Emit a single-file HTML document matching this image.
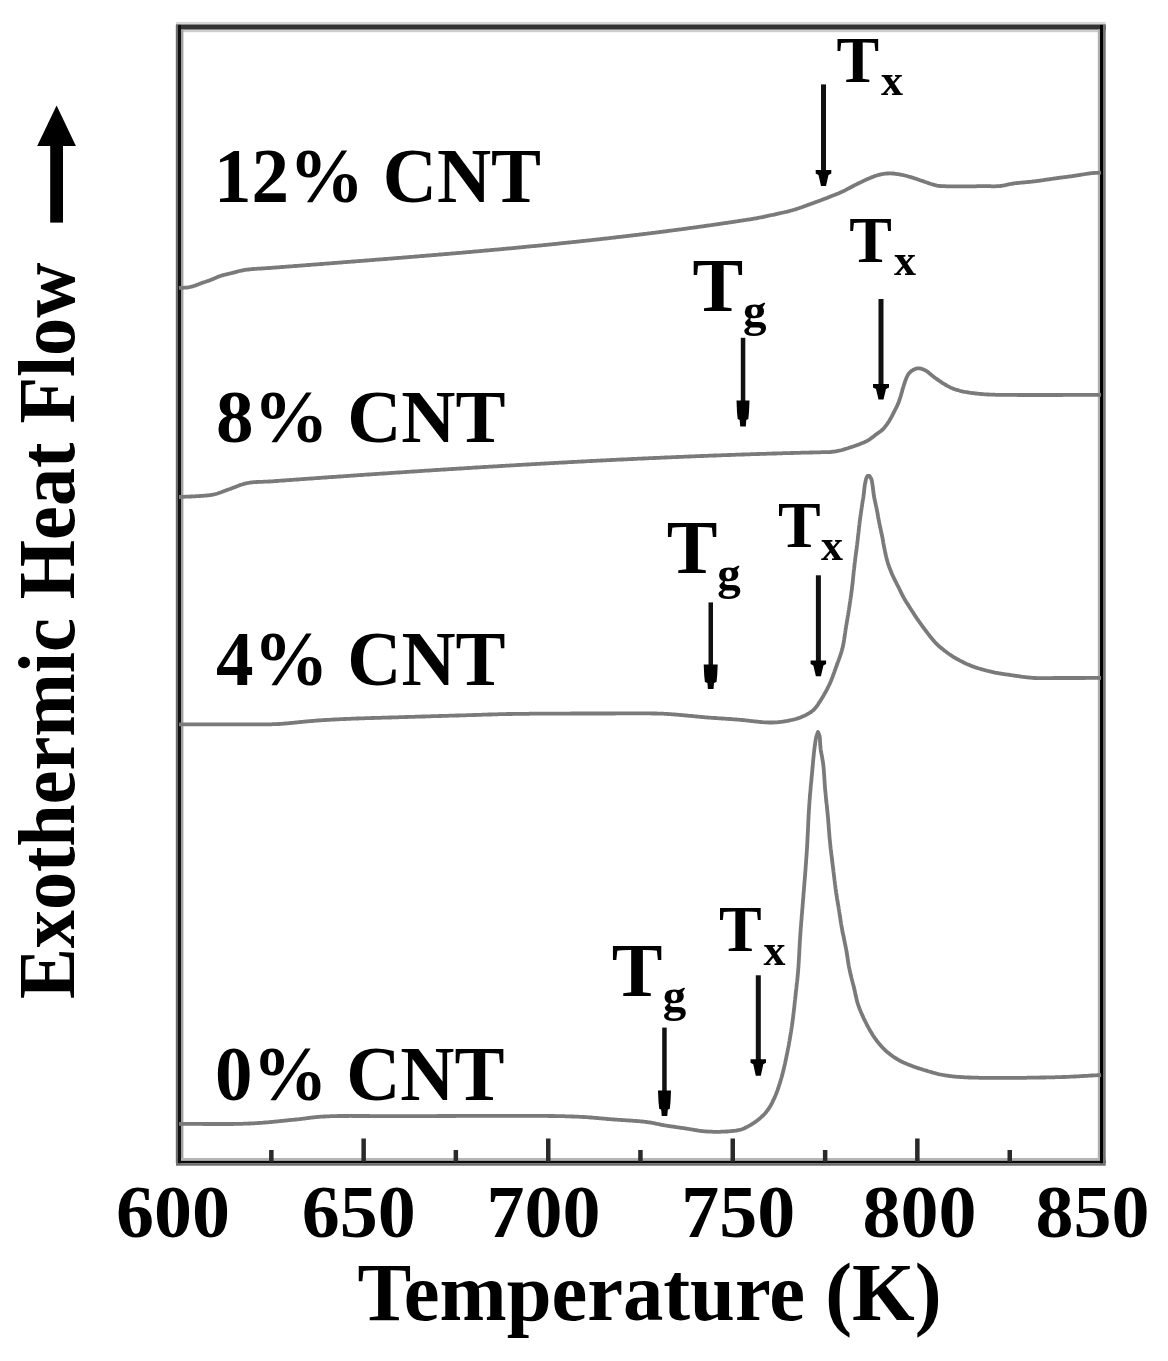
<!DOCTYPE html>
<html><head><meta charset="utf-8"><style>
html,body{margin:0;padding:0;background:#fff;}
svg{display:block;will-change:transform;}
text{font-family:"Liberation Serif",serif;font-weight:bold;fill:#000;}
</style></head><body>
<svg width="1168" height="1361" viewBox="0 0 1168 1361">
<rect x="176" y="21.9" width="929.7" height="2.1" fill="#d9d9d9"/>
<rect x="176" y="24.0" width="929.7" height="0.9" fill="#8a8a8a"/>
<rect x="176" y="24.9" width="929.7" height="4.7" fill="#333"/>
<rect x="176" y="29.6" width="929.7" height="0.5" fill="#888"/>
<rect x="176" y="30.1" width="929.7" height="2.1" fill="#cdcdcd"/>
<rect x="176" y="1158.0" width="929.7" height="2.8" fill="#b5b5b5"/>
<rect x="176" y="1160.8" width="929.7" height="2.4" fill="#0a0a0a"/>
<rect x="176" y="1163.2" width="929.7" height="2.5" fill="#6b6b6b"/>
<rect x="175.8" y="24.9" width="2.2" height="1138.3" fill="#6a6a6a"/>
<rect x="178.0" y="24.9" width="3.0" height="1138.3" fill="#111"/>
<rect x="181.0" y="29.6" width="2.4" height="1128.4" fill="#a0a0a0"/>
<rect x="1097.8" y="29.6" width="2.2" height="1128.4" fill="#b0b0b0"/>
<rect x="1100.0" y="24.9" width="3.0" height="1138.3" fill="#000"/>
<rect x="1103.0" y="24.9" width="2.7" height="1138.3" fill="#737373"/>
<rect x="269.1" y="1150" width="4.5" height="12" fill="#2a2a2a"/>
<rect x="361.4" y="1138.5" width="4.5" height="23.5" fill="#2a2a2a"/>
<rect x="453.6" y="1150" width="4.5" height="12" fill="#2a2a2a"/>
<rect x="546.0" y="1138.5" width="4.5" height="23.5" fill="#2a2a2a"/>
<rect x="638.2" y="1150" width="4.5" height="12" fill="#2a2a2a"/>
<rect x="730.5" y="1138.5" width="4.5" height="23.5" fill="#2a2a2a"/>
<rect x="822.9" y="1150" width="4.5" height="12" fill="#2a2a2a"/>
<rect x="915.1" y="1138.5" width="4.5" height="23.5" fill="#2a2a2a"/>
<rect x="1007.5" y="1150" width="4.5" height="12" fill="#2a2a2a"/>
<path d="M179.0,288.0 L180.0,287.9 L181.1,287.9 L182.1,287.8 L183.2,287.8 L184.2,287.7 L185.3,287.6 L186.3,287.6 L187.4,287.5 L188.4,287.3 L189.4,287.2 L190.4,287.0 L191.5,286.7 L192.5,286.4 L193.6,286.1 L194.6,285.7 L195.6,285.4 L196.6,285.0 L197.6,284.6 L198.7,284.2 L199.7,283.8 L200.7,283.4 L201.7,283.0 L202.8,282.7 L203.8,282.3 L204.8,282.0 L205.9,281.6 L206.9,281.3 L207.9,280.9 L208.9,280.6 L210.0,280.2 L211.0,279.8 L212.0,279.4 L213.0,279.0 L214.1,278.6 L215.1,278.1 L216.1,277.7 L217.1,277.3 L218.1,276.8 L219.1,276.4 L220.2,276.1 L221.2,275.7 L222.2,275.4 L223.2,275.1 L224.2,274.8 L225.2,274.6 L226.2,274.3 L227.3,274.1 L228.3,273.8 L229.3,273.6 L230.4,273.4 L231.5,273.1 L232.5,272.9 L233.4,272.6 L234.4,272.4 L235.3,272.1 L236.3,271.8 L237.3,271.6 L238.3,271.3 L239.3,271.0 L240.4,270.8 L241.5,270.6 L242.6,270.3 L243.7,270.1 L244.9,269.9 L245.8,269.8 L246.6,269.7 L247.5,269.6 L248.5,269.5 L249.4,269.4 L250.3,269.3 L251.3,269.2 L252.3,269.1 L253.3,269.0 L254.3,268.9 L255.4,268.9 L256.4,268.8 L257.4,268.7 L258.5,268.7 L259.5,268.6 L260.6,268.6 L261.6,268.5 L262.7,268.4 L263.7,268.4 L264.8,268.3 L265.8,268.2 L266.8,268.2 L267.9,268.1 L268.9,268.0 L269.9,268.0 L270.9,267.9 L271.9,267.8 L272.9,267.7 L273.9,267.7 L274.9,267.6 L275.9,267.5 L276.9,267.4 L277.9,267.3 L278.9,267.3 L279.9,267.2 L280.9,267.1 L281.9,267.0 L282.9,267.0 L283.9,266.9 L284.9,266.8 L285.9,266.7 L286.9,266.6 L287.9,266.6 L288.9,266.5 L289.9,266.4 L290.9,266.3 L291.9,266.3 L292.9,266.2 L293.9,266.1 L294.9,266.0 L295.9,266.0 L296.9,265.9 L297.9,265.8 L298.9,265.7 L299.9,265.6 L300.9,265.6 L301.9,265.5 L302.9,265.4 L303.9,265.3 L304.9,265.3 L305.9,265.2 L306.9,265.1 L307.9,265.0 L308.9,265.0 L309.9,264.9 L310.9,264.8 L311.9,264.7 L312.9,264.6 L313.9,264.6 L314.9,264.5 L315.9,264.4 L316.9,264.3 L317.9,264.3 L318.9,264.2 L319.9,264.1 L320.9,264.0 L321.9,264.0 L322.9,263.9 L323.9,263.8 L324.9,263.7 L325.9,263.6 L326.9,263.6 L327.9,263.5 L328.9,263.4 L329.9,263.3 L330.9,263.3 L331.9,263.2 L332.9,263.1 L333.9,263.0 L334.9,262.9 L335.9,262.9 L336.9,262.8 L337.9,262.7 L338.9,262.6 L339.9,262.6 L340.9,262.5 L341.9,262.4 L342.9,262.3 L343.9,262.2 L344.9,262.2 L345.9,262.1 L346.9,262.0 L347.9,261.9 L348.9,261.9 L349.9,261.8 L350.9,261.7 L351.9,261.6 L352.9,261.5 L353.9,261.5 L354.9,261.4 L355.9,261.3 L356.9,261.2 L357.9,261.2 L358.9,261.1 L359.9,261.0 L360.9,260.9 L361.9,260.8 L362.9,260.8 L363.9,260.7 L364.9,260.6 L365.9,260.5 L366.9,260.5 L367.9,260.4 L368.9,260.3 L369.9,260.2 L370.9,260.1 L371.9,260.1 L372.9,260.0 L373.9,259.9 L374.9,259.8 L375.9,259.7 L376.9,259.7 L377.9,259.6 L378.9,259.5 L379.9,259.4 L380.9,259.4 L381.9,259.3 L382.9,259.2 L383.9,259.1 L384.9,259.0 L385.9,259.0 L386.9,258.9 L387.9,258.8 L388.9,258.7 L389.9,258.6 L390.9,258.6 L391.9,258.5 L392.9,258.4 L393.9,258.3 L394.9,258.2 L395.9,258.2 L396.9,258.1 L397.9,258.0 L398.9,257.9 L399.9,257.8 L400.9,257.8 L401.9,257.7 L402.9,257.6 L403.9,257.5 L404.9,257.4 L405.9,257.3 L406.9,257.3 L407.9,257.2 L408.9,257.1 L409.9,257.0 L410.9,256.9 L411.9,256.9 L412.9,256.8 L413.9,256.7 L414.9,256.6 L415.9,256.5 L416.9,256.5 L417.9,256.4 L418.9,256.3 L419.9,256.2 L420.9,256.1 L421.9,256.0 L422.9,256.0 L423.9,255.9 L424.9,255.8 L425.9,255.7 L426.9,255.6 L427.9,255.5 L428.9,255.5 L429.9,255.4 L430.9,255.3 L431.9,255.2 L432.9,255.1 L433.9,255.0 L434.9,255.0 L435.9,254.9 L436.9,254.8 L437.9,254.7 L438.9,254.6 L439.9,254.5 L440.9,254.5 L441.9,254.4 L442.9,254.3 L443.9,254.2 L444.9,254.1 L445.9,254.0 L446.9,254.0 L447.9,253.9 L448.9,253.8 L449.9,253.7 L450.9,253.6 L451.9,253.5 L452.9,253.4 L453.9,253.4 L454.9,253.3 L455.9,253.2 L456.9,253.1 L457.9,253.0 L458.9,252.9 L459.9,252.8 L460.9,252.8 L461.9,252.7 L462.9,252.6 L463.9,252.5 L464.9,252.4 L465.9,252.3 L466.9,252.2 L467.9,252.1 L468.9,252.1 L469.9,252.0 L470.9,251.9 L471.9,251.8 L472.9,251.7 L473.9,251.6 L474.9,251.5 L475.9,251.4 L476.9,251.4 L477.9,251.3 L478.9,251.2 L479.9,251.1 L480.9,251.0 L481.9,250.9 L482.9,250.8 L483.9,250.7 L484.9,250.6 L485.9,250.5 L486.9,250.5 L487.9,250.4 L488.9,250.3 L489.9,250.2 L490.9,250.1 L491.9,250.0 L492.9,249.9 L493.9,249.8 L494.9,249.7 L495.9,249.6 L496.9,249.6 L497.9,249.5 L498.9,249.4 L499.9,249.3 L500.9,249.2 L501.9,249.1 L502.9,249.0 L503.9,248.9 L504.9,248.8 L505.9,248.7 L506.9,248.6 L507.9,248.5 L508.9,248.4 L509.9,248.3 L510.9,248.3 L511.9,248.2 L512.9,248.1 L513.9,248.0 L514.9,247.9 L515.9,247.8 L516.9,247.7 L517.9,247.6 L518.9,247.5 L519.9,247.4 L520.9,247.3 L521.9,247.2 L522.9,247.1 L523.9,247.0 L524.9,246.9 L525.9,246.8 L526.9,246.7 L527.9,246.6 L528.9,246.5 L529.9,246.4 L530.9,246.3 L531.9,246.2 L532.9,246.2 L533.9,246.1 L534.9,246.0 L535.9,245.9 L536.9,245.8 L537.9,245.7 L538.9,245.6 L539.9,245.5 L540.9,245.4 L541.9,245.3 L542.9,245.2 L543.9,245.1 L544.9,245.0 L545.9,244.9 L546.9,244.8 L547.9,244.7 L548.9,244.6 L549.9,244.5 L550.9,244.4 L551.9,244.3 L552.9,244.2 L553.9,244.1 L554.9,244.0 L555.9,243.9 L556.9,243.8 L557.9,243.7 L558.9,243.6 L559.9,243.4 L560.9,243.3 L561.9,243.2 L562.9,243.1 L563.9,243.0 L564.9,242.9 L565.9,242.8 L566.9,242.7 L567.9,242.6 L568.9,242.5 L569.9,242.4 L570.9,242.3 L571.9,242.2 L572.9,242.1 L573.9,242.0 L574.9,241.9 L575.9,241.8 L576.9,241.7 L577.9,241.6 L578.9,241.5 L579.9,241.4 L580.9,241.2 L581.9,241.1 L582.9,241.0 L583.9,240.9 L584.9,240.8 L585.9,240.7 L586.9,240.6 L587.9,240.5 L588.9,240.4 L589.9,240.3 L590.9,240.2 L591.9,240.1 L592.9,239.9 L593.9,239.8 L594.9,239.7 L595.9,239.6 L596.9,239.5 L597.9,239.4 L598.9,239.3 L599.9,239.2 L600.9,239.1 L601.9,238.9 L602.9,238.8 L603.9,238.7 L604.9,238.6 L605.9,238.5 L606.9,238.4 L607.9,238.3 L608.9,238.2 L609.9,238.0 L610.9,237.9 L611.9,237.8 L612.9,237.7 L613.9,237.6 L614.9,237.5 L615.9,237.4 L616.9,237.2 L617.9,237.1 L618.9,237.0 L619.9,236.9 L620.9,236.8 L621.9,236.7 L622.9,236.5 L623.9,236.4 L624.9,236.3 L625.9,236.2 L626.9,236.1 L627.9,235.9 L628.9,235.8 L629.9,235.7 L630.9,235.6 L631.9,235.5 L632.9,235.4 L633.9,235.2 L634.9,235.1 L635.9,235.0 L636.9,234.9 L637.9,234.8 L638.9,234.6 L639.9,234.5 L640.9,234.4 L641.9,234.3 L642.9,234.1 L643.9,234.0 L644.9,233.9 L645.9,233.8 L646.9,233.7 L647.9,233.5 L648.9,233.4 L649.9,233.3 L650.9,233.2 L651.9,233.0 L652.9,232.9 L653.9,232.8 L654.9,232.7 L655.9,232.5 L656.9,232.4 L657.9,232.3 L658.9,232.1 L659.9,232.0 L660.9,231.9 L661.9,231.8 L662.9,231.6 L663.9,231.5 L664.9,231.4 L665.9,231.3 L666.9,231.1 L667.9,231.0 L668.9,230.9 L669.9,230.7 L670.9,230.6 L671.9,230.5 L672.9,230.3 L673.9,230.2 L674.9,230.1 L675.9,230.0 L676.9,229.8 L677.9,229.7 L678.9,229.6 L679.9,229.4 L680.9,229.3 L681.9,229.2 L682.9,229.0 L683.9,228.9 L684.9,228.8 L685.9,228.6 L686.9,228.5 L687.9,228.3 L688.9,228.2 L689.9,228.1 L690.9,227.9 L691.9,227.8 L692.9,227.7 L693.9,227.5 L694.9,227.4 L695.9,227.3 L696.9,227.1 L697.9,227.0 L698.9,226.8 L699.9,226.7 L700.9,226.6 L701.9,226.4 L702.9,226.3 L703.9,226.1 L704.9,226.0 L705.9,225.9 L706.9,225.7 L707.9,225.6 L708.9,225.4 L709.9,225.3 L710.9,225.2 L711.9,225.0 L712.9,224.9 L713.9,224.7 L714.9,224.6 L715.9,224.4 L716.9,224.3 L717.9,224.1 L718.9,224.0 L719.9,223.9 L720.9,223.7 L721.9,223.6 L723.0,223.4 L724.0,223.2 L725.1,223.1 L726.2,222.9 L727.3,222.8 L728.3,222.6 L729.4,222.4 L730.5,222.3 L731.6,222.1 L732.7,222.0 L733.7,221.8 L734.8,221.6 L735.8,221.5 L736.8,221.3 L737.8,221.2 L738.8,221.0 L739.8,220.9 L740.7,220.7 L741.6,220.6 L742.5,220.5 L743.3,220.3 L744.1,220.2 L744.9,220.1 L746.2,219.9 L747.3,219.7 L748.3,219.6 L749.3,219.5 L750.3,219.3 L751.3,219.1 L752.4,219.0 L753.7,218.7 L754.5,218.6 L755.3,218.4 L756.2,218.3 L757.2,218.1 L758.1,217.9 L759.1,217.7 L760.1,217.5 L761.2,217.3 L762.2,217.1 L763.3,216.9 L764.4,216.6 L765.5,216.4 L766.6,216.2 L767.7,215.9 L768.8,215.7 L769.9,215.5 L771.0,215.2 L772.1,215.0 L773.1,214.8 L774.1,214.6 L775.2,214.3 L776.1,214.1 L777.1,213.9 L778.2,213.7 L779.2,213.4 L780.3,213.2 L781.3,213.0 L782.3,212.7 L783.3,212.5 L784.3,212.3 L785.3,212.0 L786.3,211.8 L787.3,211.6 L788.3,211.3 L789.3,211.1 L790.2,210.8 L791.2,210.5 L792.2,210.3 L793.2,210.0 L794.2,209.7 L795.2,209.4 L796.1,209.1 L797.1,208.8 L798.0,208.5 L799.0,208.2 L800.0,207.8 L800.9,207.5 L801.9,207.2 L802.8,206.8 L803.8,206.5 L804.7,206.1 L805.7,205.8 L806.6,205.4 L807.6,205.1 L808.5,204.7 L809.5,204.4 L810.4,204.0 L811.4,203.7 L812.4,203.4 L813.3,203.0 L814.3,202.7 L815.2,202.3 L816.2,201.9 L817.2,201.6 L818.2,201.2 L819.1,200.9 L820.1,200.5 L821.0,200.2 L822.0,199.8 L823.0,199.4 L823.9,199.1 L824.8,198.7 L825.8,198.4 L826.7,198.0 L827.6,197.7 L828.5,197.3 L829.5,196.9 L830.5,196.5 L831.5,196.1 L832.5,195.7 L833.5,195.3 L834.5,195.0 L835.5,194.6 L836.4,194.2 L837.4,193.8 L838.4,193.4 L839.3,193.0 L840.3,192.6 L841.2,192.1 L842.2,191.7 L843.1,191.3 L844.0,190.8 L845.0,190.4 L845.9,189.9 L846.8,189.4 L847.7,188.9 L848.6,188.4 L849.5,188.0 L850.4,187.5 L851.3,187.0 L852.2,186.5 L853.2,186.0 L854.1,185.5 L855.0,185.1 L855.9,184.6 L856.8,184.2 L857.7,183.7 L858.7,183.2 L859.6,182.8 L860.5,182.3 L861.5,181.9 L862.4,181.4 L863.3,181.0 L864.2,180.6 L865.2,180.1 L866.1,179.7 L867.0,179.3 L867.9,178.9 L868.7,178.6 L869.6,178.2 L870.7,177.8 L871.7,177.3 L872.8,176.9 L873.8,176.5 L874.8,176.1 L875.8,175.8 L876.8,175.5 L877.8,175.1 L878.9,174.9 L879.9,174.6 L880.9,174.4 L881.9,174.2 L882.9,174.0 L884.0,173.8 L885.0,173.7 L886.0,173.6 L887.0,173.5 L888.1,173.5 L889.1,173.4 L890.1,173.4 L891.1,173.4 L892.2,173.5 L893.2,173.5 L894.2,173.6 L895.3,173.8 L896.3,173.9 L897.3,174.1 L898.3,174.2 L899.4,174.4 L900.4,174.6 L901.4,174.8 L902.5,175.0 L903.5,175.2 L904.5,175.5 L905.6,175.7 L906.6,176.0 L907.6,176.2 L908.6,176.5 L909.7,176.8 L910.7,177.1 L911.7,177.4 L912.8,177.7 L913.8,178.1 L914.8,178.4 L915.9,178.7 L916.9,179.1 L917.9,179.4 L918.9,179.8 L920.0,180.2 L921.0,180.5 L922.0,180.9 L923.1,181.2 L924.1,181.6 L925.2,182.0 L926.2,182.3 L927.3,182.7 L928.3,183.1 L929.3,183.4 L930.3,183.7 L931.2,184.0 L932.2,184.3 L933.2,184.6 L934.2,184.9 L935.1,185.2 L936.1,185.4 L937.0,185.6 L938.1,185.8 L939.0,185.9 L940.0,186.0 L941.0,186.1 L942.0,186.2 L943.1,186.2 L944.1,186.2 L945.2,186.2 L946.3,186.3 L947.3,186.3 L948.4,186.3 L949.4,186.3 L950.4,186.3 L951.4,186.3 L952.4,186.3 L953.4,186.3 L954.4,186.3 L955.4,186.3 L956.5,186.3 L957.6,186.3 L958.8,186.3 L960.0,186.3 L960.8,186.3 L961.7,186.3 L962.6,186.3 L963.5,186.3 L964.5,186.3 L965.5,186.3 L966.5,186.3 L967.5,186.3 L968.6,186.3 L969.6,186.3 L970.7,186.3 L971.7,186.3 L972.8,186.3 L973.9,186.3 L975.0,186.3 L976.1,186.3 L977.1,186.2 L978.2,186.2 L979.2,186.2 L980.2,186.2 L981.2,186.2 L982.2,186.2 L983.2,186.2 L984.1,186.2 L985.0,186.2 L986.1,186.2 L987.3,186.2 L988.3,186.2 L989.4,186.2 L990.5,186.2 L991.5,186.3 L992.5,186.3 L993.5,186.3 L994.5,186.3 L995.5,186.3 L996.5,186.2 L997.5,186.2 L998.5,186.2 L999.4,186.1 L1000.4,186.0 L1001.5,185.9 L1002.5,185.7 L1003.5,185.5 L1004.5,185.3 L1005.5,185.1 L1006.5,184.9 L1007.5,184.7 L1008.5,184.4 L1009.5,184.2 L1010.5,184.0 L1011.6,183.8 L1012.8,183.6 L1013.7,183.5 L1014.6,183.3 L1015.6,183.2 L1016.6,183.1 L1017.6,183.0 L1018.6,182.9 L1019.6,182.8 L1020.7,182.7 L1021.7,182.6 L1022.8,182.5 L1023.9,182.4 L1025.0,182.3 L1026.1,182.2 L1027.2,182.1 L1028.2,182.0 L1029.3,181.9 L1030.4,181.8 L1031.5,181.7 L1032.5,181.5 L1033.6,181.4 L1034.6,181.3 L1035.6,181.2 L1036.7,181.0 L1037.7,180.9 L1038.7,180.8 L1039.8,180.6 L1040.8,180.5 L1041.8,180.3 L1042.8,180.2 L1043.9,180.0 L1044.9,179.9 L1045.9,179.7 L1046.9,179.6 L1047.9,179.4 L1049.0,179.3 L1050.0,179.1 L1051.0,179.0 L1052.0,178.8 L1053.0,178.7 L1054.0,178.5 L1055.0,178.4 L1056.0,178.3 L1057.0,178.1 L1058.0,178.0 L1059.0,177.9 L1060.0,177.7 L1061.0,177.6 L1062.0,177.5 L1063.0,177.3 L1064.0,177.2 L1065.0,177.1 L1066.0,177.0 L1067.0,176.8 L1068.0,176.7 L1069.0,176.6 L1070.0,176.4 L1071.0,176.3 L1071.9,176.2 L1072.9,176.0 L1073.9,175.9 L1075.0,175.7 L1076.0,175.6 L1077.1,175.4 L1078.2,175.2 L1079.3,175.1 L1080.3,174.9 L1081.4,174.7 L1082.5,174.5 L1083.5,174.3 L1084.6,174.2 L1085.6,174.0 L1086.7,173.8 L1087.7,173.7 L1088.6,173.6 L1089.6,173.4 L1090.5,173.3 L1091.4,173.2 L1092.6,173.1 L1093.7,173.0 L1094.8,172.9 L1095.9,172.9 L1096.9,172.8 L1097.9,172.8 L1098.9,172.7 L1099.9,172.7 L1101.0,172.6" fill="none" stroke="#7a7a7a" stroke-width="3.8" stroke-linejoin="round"/>
<path d="M179.0,497.0 L180.0,497.0 L181.0,496.9 L182.0,496.9 L183.1,496.8 L184.1,496.8 L185.1,496.7 L186.2,496.7 L187.2,496.7 L188.2,496.6 L189.3,496.6 L190.3,496.5 L191.3,496.5 L192.3,496.4 L193.3,496.4 L194.3,496.4 L195.3,496.3 L196.3,496.2 L197.2,496.2 L198.2,496.1 L199.1,496.1 L200.0,496.0 L201.1,495.9 L202.3,495.8 L203.4,495.8 L204.4,495.7 L205.5,495.6 L206.5,495.5 L207.5,495.4 L208.5,495.3 L209.6,495.2 L210.6,495.1 L211.6,494.9 L212.6,494.7 L213.7,494.5 L214.6,494.3 L215.6,494.0 L216.5,493.8 L217.5,493.5 L218.4,493.2 L219.3,492.8 L220.3,492.5 L221.2,492.2 L222.2,491.8 L223.2,491.4 L224.1,491.1 L225.1,490.7 L226.0,490.4 L227.0,490.0 L228.0,489.6 L229.0,489.3 L229.9,489.0 L230.8,488.7 L231.7,488.3 L232.6,488.0 L233.5,487.6 L234.5,487.3 L235.4,486.9 L236.3,486.5 L237.2,486.2 L238.2,485.8 L239.1,485.5 L240.0,485.1 L241.0,484.8 L242.0,484.5 L243.0,484.2 L243.9,483.9 L244.9,483.6 L246.0,483.4 L247.0,483.2 L247.9,483.0 L248.8,482.8 L249.8,482.7 L250.7,482.5 L251.7,482.4 L252.7,482.3 L253.7,482.2 L254.7,482.2 L255.7,482.1 L256.7,482.0 L257.7,482.0 L258.7,481.9 L259.7,481.9 L260.7,481.8 L261.8,481.8 L262.8,481.8 L263.8,481.7 L264.9,481.7 L265.9,481.6 L266.9,481.6 L268.0,481.6 L269.0,481.5 L270.0,481.5 L271.0,481.4 L272.0,481.3 L273.0,481.3 L274.0,481.2 L275.0,481.1 L276.0,481.0 L277.0,481.0 L278.0,480.9 L279.0,480.8 L280.0,480.7 L281.0,480.7 L282.0,480.6 L283.0,480.5 L284.0,480.5 L285.0,480.4 L286.0,480.3 L287.0,480.2 L288.0,480.2 L289.0,480.1 L290.0,480.0 L291.0,480.0 L292.0,479.9 L293.0,479.8 L294.0,479.7 L295.0,479.7 L296.0,479.6 L297.0,479.5 L298.0,479.5 L299.0,479.4 L300.0,479.3 L301.0,479.2 L302.0,479.2 L303.0,479.1 L304.0,479.0 L305.0,478.9 L306.0,478.9 L307.0,478.8 L308.0,478.7 L309.0,478.7 L310.0,478.6 L311.0,478.5 L312.0,478.5 L313.0,478.4 L314.0,478.3 L315.0,478.2 L316.0,478.2 L317.0,478.1 L318.0,478.0 L319.0,478.0 L320.0,477.9 L321.0,477.8 L322.0,477.7 L323.0,477.7 L324.0,477.6 L325.0,477.5 L326.0,477.5 L327.0,477.4 L328.0,477.3 L329.0,477.2 L330.0,477.2 L331.0,477.1 L332.0,477.0 L333.0,477.0 L334.0,476.9 L335.0,476.8 L336.0,476.8 L337.0,476.7 L338.0,476.6 L339.0,476.5 L340.0,476.5 L341.0,476.4 L342.0,476.3 L343.0,476.3 L344.0,476.2 L345.0,476.1 L346.0,476.1 L347.0,476.0 L348.0,475.9 L349.0,475.9 L350.0,475.8 L351.0,475.7 L352.0,475.6 L353.0,475.6 L354.0,475.5 L355.0,475.4 L356.0,475.4 L357.0,475.3 L358.0,475.2 L359.0,475.2 L360.0,475.1 L361.0,475.0 L362.0,475.0 L363.0,474.9 L364.0,474.8 L365.0,474.7 L366.0,474.7 L367.0,474.6 L368.0,474.5 L369.0,474.5 L370.0,474.4 L371.0,474.3 L372.0,474.3 L373.0,474.2 L374.0,474.1 L375.0,474.1 L376.0,474.0 L377.0,473.9 L378.0,473.9 L379.0,473.8 L380.0,473.7 L381.0,473.7 L382.0,473.6 L383.0,473.5 L384.0,473.5 L385.0,473.4 L386.0,473.3 L387.0,473.3 L388.0,473.2 L389.0,473.1 L390.0,473.1 L391.0,473.0 L392.0,472.9 L393.0,472.9 L394.0,472.8 L395.0,472.7 L396.0,472.7 L397.0,472.6 L398.0,472.5 L399.0,472.5 L400.0,472.4 L401.0,472.3 L402.0,472.3 L403.0,472.2 L404.0,472.1 L405.0,472.1 L406.0,472.0 L407.0,471.9 L408.0,471.9 L409.0,471.8 L410.0,471.7 L411.0,471.7 L412.0,471.6 L413.0,471.5 L414.0,471.5 L415.0,471.4 L416.0,471.3 L417.0,471.3 L418.0,471.2 L419.0,471.1 L420.0,471.1 L421.0,471.0 L422.0,470.9 L423.0,470.9 L424.0,470.8 L425.0,470.7 L426.0,470.7 L427.0,470.6 L428.0,470.6 L429.0,470.5 L430.0,470.4 L431.0,470.4 L432.0,470.3 L433.0,470.2 L434.0,470.2 L435.0,470.1 L436.0,470.0 L437.0,470.0 L438.0,469.9 L439.0,469.8 L440.0,469.8 L441.0,469.7 L442.0,469.7 L443.0,469.6 L444.0,469.5 L445.0,469.5 L446.0,469.4 L447.0,469.3 L448.0,469.3 L449.0,469.2 L450.0,469.1 L451.0,469.1 L452.0,469.0 L453.0,469.0 L454.0,468.9 L455.0,468.8 L456.0,468.8 L457.0,468.7 L458.0,468.6 L459.0,468.6 L460.0,468.5 L461.0,468.5 L462.0,468.4 L463.0,468.3 L464.0,468.3 L465.0,468.2 L466.0,468.1 L467.0,468.1 L468.0,468.0 L469.0,468.0 L470.0,467.9 L471.0,467.8 L472.0,467.8 L473.0,467.7 L474.0,467.7 L475.0,467.6 L476.0,467.5 L477.0,467.5 L478.0,467.4 L479.0,467.3 L480.0,467.3 L481.0,467.2 L482.0,467.2 L483.0,467.1 L484.0,467.0 L485.0,467.0 L486.0,466.9 L487.0,466.9 L488.0,466.8 L489.0,466.7 L490.0,466.7 L491.0,466.6 L492.0,466.6 L493.0,466.5 L494.0,466.4 L495.0,466.4 L496.0,466.3 L497.0,466.3 L498.0,466.2 L499.0,466.1 L500.0,466.1 L501.0,466.0 L502.0,466.0 L503.0,465.9 L504.0,465.8 L505.0,465.8 L506.0,465.7 L507.0,465.7 L508.0,465.6 L509.0,465.6 L510.0,465.5 L511.0,465.4 L512.0,465.4 L513.0,465.3 L514.0,465.3 L515.0,465.2 L516.0,465.1 L517.0,465.1 L518.0,465.0 L519.0,465.0 L520.0,464.9 L521.0,464.9 L522.0,464.8 L523.0,464.7 L524.0,464.7 L525.0,464.6 L526.0,464.6 L527.0,464.5 L528.0,464.5 L529.0,464.4 L530.0,464.3 L531.0,464.3 L532.0,464.2 L533.0,464.2 L534.0,464.1 L535.0,464.1 L536.0,464.0 L537.0,463.9 L538.0,463.9 L539.0,463.8 L540.0,463.8 L541.0,463.7 L542.0,463.7 L543.0,463.6 L544.0,463.6 L545.0,463.5 L546.0,463.4 L547.0,463.4 L548.0,463.3 L549.0,463.3 L550.0,463.2 L551.0,463.2 L552.0,463.1 L553.0,463.1 L554.0,463.0 L555.0,462.9 L556.0,462.9 L557.0,462.8 L558.0,462.8 L559.0,462.7 L560.0,462.7 L561.0,462.6 L562.0,462.6 L563.0,462.5 L564.0,462.5 L565.0,462.4 L566.0,462.4 L567.0,462.3 L568.0,462.2 L569.0,462.2 L570.0,462.1 L571.0,462.1 L572.0,462.0 L573.0,462.0 L574.0,461.9 L575.0,461.9 L576.0,461.8 L577.0,461.8 L578.0,461.7 L579.0,461.7 L580.0,461.6 L581.0,461.6 L582.0,461.5 L583.0,461.5 L584.0,461.4 L585.0,461.3 L586.0,461.3 L587.0,461.2 L588.0,461.2 L589.0,461.1 L590.0,461.1 L591.0,461.0 L592.0,461.0 L593.0,460.9 L594.0,460.9 L595.0,460.8 L596.0,460.8 L597.0,460.7 L598.0,460.7 L599.0,460.6 L600.0,460.6 L601.0,460.5 L602.0,460.5 L603.0,460.4 L604.0,460.4 L605.0,460.3 L606.0,460.3 L607.0,460.2 L608.0,460.2 L609.0,460.1 L610.0,460.1 L611.0,460.0 L612.0,460.0 L613.0,459.9 L614.0,459.9 L615.0,459.8 L616.0,459.8 L617.0,459.7 L618.0,459.7 L619.0,459.6 L620.0,459.6 L621.0,459.5 L622.0,459.5 L623.0,459.5 L624.0,459.4 L625.0,459.4 L626.0,459.3 L627.0,459.3 L628.0,459.2 L629.0,459.2 L630.0,459.1 L631.0,459.1 L632.0,459.0 L633.0,459.0 L634.0,458.9 L635.0,458.9 L636.0,458.8 L637.0,458.8 L638.0,458.7 L639.0,458.7 L640.0,458.7 L641.0,458.6 L642.0,458.6 L643.0,458.5 L644.0,458.5 L645.0,458.4 L646.0,458.4 L647.0,458.3 L648.0,458.3 L649.0,458.2 L650.0,458.2 L651.0,458.2 L652.0,458.1 L653.0,458.1 L654.0,458.0 L655.0,458.0 L656.0,457.9 L657.0,457.9 L658.0,457.8 L659.0,457.8 L660.0,457.8 L661.0,457.7 L662.0,457.7 L663.0,457.6 L664.0,457.6 L665.0,457.5 L666.0,457.5 L667.0,457.4 L668.0,457.4 L669.0,457.4 L670.0,457.3 L671.0,457.3 L672.0,457.2 L673.0,457.2 L674.0,457.1 L675.0,457.1 L676.0,457.1 L677.0,457.0 L678.0,457.0 L679.0,456.9 L680.0,456.9 L681.0,456.9 L682.0,456.8 L683.0,456.8 L684.0,456.7 L685.0,456.7 L686.0,456.6 L687.0,456.6 L688.0,456.6 L689.0,456.5 L690.0,456.5 L691.0,456.4 L692.0,456.4 L693.0,456.4 L694.0,456.3 L695.0,456.3 L696.0,456.2 L697.0,456.2 L698.0,456.2 L699.0,456.1 L700.0,456.1 L701.0,456.0 L702.0,456.0 L703.0,456.0 L704.0,455.9 L705.0,455.9 L706.0,455.9 L707.0,455.8 L708.0,455.8 L709.0,455.7 L710.0,455.7 L711.0,455.7 L712.0,455.6 L713.0,455.6 L714.0,455.5 L715.0,455.5 L716.0,455.5 L717.0,455.4 L718.0,455.4 L719.0,455.4 L720.0,455.3 L721.0,455.3 L722.0,455.2 L723.0,455.2 L724.0,455.2 L725.0,455.1 L726.0,455.1 L727.0,455.1 L728.0,455.0 L729.0,455.0 L730.0,455.0 L731.0,454.9 L732.0,454.9 L733.0,454.9 L734.0,454.8 L735.0,454.8 L736.0,454.7 L737.0,454.7 L738.0,454.7 L739.0,454.6 L740.0,454.6 L741.0,454.6 L742.0,454.5 L743.0,454.5 L744.0,454.5 L745.0,454.4 L746.0,454.4 L747.0,454.4 L748.0,454.3 L749.0,454.3 L750.0,454.3 L751.0,454.2 L752.0,454.2 L753.0,454.2 L754.0,454.1 L755.0,454.1 L756.0,454.1 L757.0,454.0 L758.0,454.0 L759.0,454.0 L760.0,453.9 L761.0,453.9 L762.0,453.9 L763.0,453.9 L764.0,453.8 L765.0,453.8 L766.0,453.8 L767.0,453.7 L768.0,453.7 L769.0,453.7 L770.0,453.6 L771.0,453.6 L772.0,453.6 L773.0,453.5 L774.0,453.5 L775.0,453.5 L776.0,453.5 L777.0,453.4 L778.0,453.4 L779.0,453.4 L780.0,453.3 L781.0,453.3 L782.0,453.3 L783.0,453.2 L784.0,453.2 L785.0,453.2 L786.0,453.2 L787.0,453.1 L788.0,453.1 L789.0,453.1 L790.0,453.1 L791.0,453.0 L792.0,453.0 L793.0,453.0 L794.0,452.9 L795.0,452.9 L796.0,452.9 L797.0,452.9 L798.0,452.8 L799.0,452.8 L800.1,452.8 L801.2,452.7 L802.2,452.7 L803.3,452.7 L804.4,452.7 L805.5,452.6 L806.6,452.6 L807.7,452.6 L808.8,452.6 L809.8,452.5 L810.9,452.5 L812.0,452.5 L813.0,452.4 L814.0,452.4 L815.0,452.4 L816.0,452.4 L817.0,452.4 L817.9,452.3 L818.8,452.3 L819.7,452.3 L820.5,452.3 L821.3,452.2 L822.0,452.2 L823.4,452.2 L824.6,452.2 L825.6,452.2 L826.7,452.2 L827.7,452.2 L828.8,452.1 L829.9,452.1 L830.9,452.0 L831.8,451.9 L832.8,451.7 L833.8,451.6 L834.9,451.5 L835.9,451.3 L836.9,451.1 L837.9,450.9 L839.0,450.7 L840.0,450.5 L841.0,450.3 L842.0,450.0 L843.0,449.7 L844.0,449.4 L845.0,449.1 L846.0,448.8 L847.0,448.5 L848.0,448.2 L849.0,447.8 L849.9,447.5 L850.9,447.2 L852.0,446.9 L853.0,446.5 L854.0,446.2 L855.0,445.8 L856.0,445.5 L857.0,445.1 L858.0,444.8 L859.0,444.4 L860.0,444.0 L861.0,443.6 L861.9,443.2 L862.9,442.8 L863.9,442.4 L864.8,442.0 L865.8,441.6 L866.7,441.1 L867.6,440.6 L868.5,440.1 L869.4,439.6 L870.2,439.0 L871.1,438.3 L871.9,437.7 L872.8,437.1 L873.6,436.4 L874.4,435.8 L875.2,435.1 L876.0,434.5 L876.8,433.9 L877.7,433.3 L878.5,432.7 L879.4,432.1 L880.2,431.5 L881.0,430.9 L881.8,430.3 L882.5,429.6 L883.3,428.8 L884.1,428.0 L884.8,427.1 L885.5,426.2 L886.2,425.3 L886.9,424.4 L887.5,423.5 L888.1,422.6 L888.7,421.8 L889.2,420.9 L889.7,420.0 L890.3,419.1 L890.8,418.2 L891.3,417.3 L891.8,416.4 L892.3,415.5 L892.7,414.6 L893.2,413.7 L893.6,412.8 L894.1,411.8 L894.6,410.9 L895.0,410.0 L895.5,409.0 L896.0,408.1 L896.5,407.1 L897.0,406.2 L897.4,405.2 L897.9,404.2 L898.3,403.2 L898.7,402.2 L899.0,401.2 L899.4,400.2 L899.7,399.2 L900.0,398.1 L900.4,397.1 L900.7,396.1 L901.0,395.0 L901.3,394.0 L901.6,393.0 L901.9,392.0 L902.2,391.0 L902.4,389.9 L902.7,388.9 L903.0,387.9 L903.3,387.0 L903.6,386.0 L903.9,384.9 L904.3,383.9 L904.6,382.9 L904.9,381.9 L905.3,380.9 L905.6,379.9 L906.0,379.0 L906.4,378.0 L906.8,377.1 L907.3,376.1 L907.7,375.2 L908.2,374.4 L908.8,373.6 L909.5,372.8 L910.3,372.0 L911.2,371.2 L912.1,370.6 L913.0,370.0 L914.1,369.4 L915.3,368.9 L916.4,368.5 L917.6,368.3 L918.7,368.3 L919.8,368.4 L920.9,368.7 L922.0,369.0 L923.1,369.4 L924.2,369.8 L925.3,370.4 L926.4,371.0 L927.2,371.5 L928.0,372.1 L928.7,372.8 L929.5,373.4 L930.3,374.1 L931.2,374.8 L932.0,375.5 L932.8,376.1 L933.6,376.7 L934.5,377.4 L935.3,378.0 L936.2,378.6 L937.0,379.2 L937.9,379.8 L938.7,380.4 L939.6,381.0 L940.5,381.6 L941.4,382.2 L942.2,382.8 L943.1,383.4 L944.1,383.9 L945.0,384.5 L945.9,385.0 L946.9,385.6 L947.8,386.1 L948.8,386.6 L949.8,387.1 L950.7,387.6 L951.7,388.1 L952.7,388.5 L953.7,388.9 L954.8,389.3 L955.8,389.6 L956.9,389.9 L957.9,390.2 L959.0,390.5 L960.0,390.8 L961.1,391.1 L962.2,391.3 L963.3,391.6 L964.4,391.8 L965.6,392.0 L966.8,392.2 L967.7,392.4 L968.7,392.5 L969.7,392.7 L970.7,392.8 L971.7,393.0 L972.8,393.1 L973.8,393.2 L974.9,393.4 L976.0,393.5 L977.0,393.6 L978.0,393.7 L979.1,393.8 L980.1,393.9 L981.1,394.0 L982.1,394.1 L983.2,394.2 L984.3,394.3 L985.4,394.4 L986.6,394.4 L987.8,394.5 L988.6,394.5 L989.5,394.6 L990.3,394.6 L991.1,394.6 L992.0,394.7 L992.9,394.7 L993.8,394.7 L994.7,394.7 L995.6,394.8 L996.5,394.8 L997.5,394.8 L998.4,394.8 L999.5,394.8 L1000.5,394.8 L1001.5,394.8 L1002.6,394.8 L1003.8,394.8 L1004.9,394.9 L1006.1,394.9 L1007.4,394.9 L1008.7,394.9 L1010.0,394.9 L1010.7,394.9 L1011.4,394.9 L1012.0,394.9 L1012.8,394.9 L1013.5,394.9 L1014.2,394.9 L1015.0,394.9 L1015.7,394.9 L1016.5,394.9 L1017.3,394.9 L1018.1,395.0 L1018.9,395.0 L1019.8,395.0 L1020.6,395.0 L1021.5,395.0 L1022.3,395.0 L1023.2,395.0 L1024.1,395.0 L1025.0,395.0 L1025.9,395.0 L1026.8,395.0 L1027.7,395.0 L1028.6,395.0 L1029.6,395.0 L1030.5,395.0 L1031.5,395.0 L1032.5,395.0 L1033.5,395.0 L1034.4,395.0 L1035.4,395.0 L1036.4,395.0 L1037.4,395.0 L1038.5,395.0 L1039.5,395.0 L1040.5,395.0 L1041.5,395.0 L1042.6,395.0 L1043.6,395.0 L1044.7,395.0 L1045.7,395.0 L1046.8,395.0 L1047.9,395.0 L1048.9,395.0 L1050.0,395.0 L1051.1,395.0 L1052.2,395.0 L1053.3,395.0 L1054.4,395.0 L1055.5,395.0 L1056.6,395.0 L1057.7,395.0 L1058.8,395.0 L1059.9,395.0 L1061.0,395.0 L1062.1,395.0 L1063.2,394.9 L1064.3,394.9 L1065.4,394.9 L1066.5,394.9 L1067.6,394.9 L1068.8,394.9 L1069.9,394.9 L1071.0,394.9 L1072.1,394.9 L1073.2,394.9 L1074.3,394.9 L1075.4,394.9 L1076.5,394.9 L1077.6,394.9 L1078.7,394.9 L1079.8,394.9 L1080.9,394.9 L1082.0,394.9 L1083.1,394.9 L1084.2,394.9 L1085.3,394.9 L1086.4,394.9 L1087.5,394.9 L1088.5,394.9 L1089.6,394.9 L1090.7,394.9 L1091.7,394.9 L1092.8,394.9 L1093.8,394.9 L1094.9,394.9 L1095.9,394.9 L1096.9,394.9 L1098.0,394.9 L1099.0,394.9 L1100.0,394.9 L1101.0,394.9" fill="none" stroke="#7a7a7a" stroke-width="3.8" stroke-linejoin="round"/>
<path d="M179.0,724.3 L180.0,724.3 L181.0,724.3 L182.0,724.3 L183.1,724.3 L184.1,724.3 L185.1,724.3 L186.1,724.3 L187.2,724.3 L188.2,724.3 L189.3,724.3 L190.3,724.3 L191.4,724.3 L192.5,724.3 L193.5,724.3 L194.6,724.3 L195.7,724.3 L196.7,724.3 L197.8,724.3 L198.9,724.3 L200.0,724.3 L201.0,724.3 L202.1,724.3 L203.2,724.3 L204.3,724.3 L205.4,724.3 L206.4,724.3 L207.5,724.3 L208.6,724.3 L209.7,724.3 L210.7,724.3 L211.8,724.3 L212.9,724.3 L213.9,724.3 L215.0,724.3 L216.1,724.3 L217.1,724.3 L218.2,724.3 L219.2,724.3 L220.3,724.3 L221.3,724.3 L222.4,724.3 L223.4,724.3 L224.4,724.3 L225.5,724.3 L226.5,724.3 L227.5,724.3 L228.5,724.3 L229.5,724.3 L230.5,724.3 L231.5,724.3 L232.4,724.3 L233.4,724.3 L234.4,724.3 L235.3,724.3 L236.3,724.3 L237.2,724.3 L238.1,724.3 L239.1,724.3 L240.0,724.3 L240.9,724.3 L241.8,724.3 L242.6,724.3 L243.5,724.3 L244.3,724.3 L245.2,724.3 L246.0,724.3 L246.8,724.3 L247.7,724.3 L248.4,724.3 L249.2,724.3 L250.0,724.3 L251.2,724.3 L252.4,724.3 L253.6,724.3 L254.7,724.3 L255.9,724.3 L257.0,724.3 L258.0,724.3 L259.1,724.3 L260.2,724.3 L261.2,724.3 L262.2,724.3 L263.2,724.3 L264.2,724.3 L265.1,724.3 L266.1,724.3 L267.0,724.3 L268.0,724.3 L268.9,724.3 L269.8,724.3 L270.7,724.3 L271.6,724.3 L272.5,724.2 L273.4,724.2 L274.3,724.2 L275.2,724.2 L276.1,724.1 L277.0,724.1 L278.1,724.0 L279.2,724.0 L280.2,723.9 L281.2,723.9 L282.2,723.8 L283.2,723.7 L284.2,723.6 L285.2,723.5 L286.1,723.4 L287.1,723.4 L288.1,723.3 L289.0,723.2 L290.0,723.1 L291.0,723.0 L292.0,722.9 L293.0,722.8 L294.0,722.7 L295.0,722.6 L296.0,722.5 L296.9,722.4 L297.9,722.3 L298.9,722.2 L299.9,722.1 L300.8,722.0 L301.8,721.9 L302.8,721.8 L303.8,721.7 L304.8,721.6 L305.8,721.5 L306.8,721.4 L307.8,721.3 L308.8,721.2 L309.9,721.1 L310.9,721.1 L312.0,721.0 L313.1,720.9 L314.2,720.8 L315.3,720.7 L316.4,720.6 L317.3,720.5 L318.2,720.5 L319.1,720.4 L320.1,720.3 L321.0,720.3 L321.9,720.2 L322.9,720.2 L323.8,720.1 L324.8,720.0 L325.8,720.0 L326.7,719.9 L327.7,719.9 L328.7,719.8 L329.7,719.8 L330.7,719.7 L331.7,719.7 L332.7,719.6 L333.7,719.5 L334.8,719.5 L335.8,719.4 L336.8,719.4 L337.9,719.3 L338.9,719.3 L340.0,719.2 L341.1,719.2 L342.1,719.1 L343.2,719.1 L344.3,719.0 L345.4,719.0 L346.5,718.9 L347.6,718.9 L348.7,718.8 L349.8,718.8 L350.7,718.8 L351.6,718.7 L352.6,718.7 L353.5,718.6 L354.4,718.6 L355.4,718.6 L356.3,718.5 L357.3,718.5 L358.3,718.5 L359.3,718.4 L360.3,718.4 L361.3,718.4 L362.3,718.3 L363.3,718.3 L364.3,718.3 L365.3,718.2 L366.3,718.2 L367.4,718.2 L368.4,718.1 L369.4,718.1 L370.5,718.1 L371.5,718.0 L372.5,718.0 L373.6,718.0 L374.6,717.9 L375.7,717.9 L376.7,717.9 L377.8,717.8 L378.8,717.8 L379.8,717.8 L380.9,717.8 L381.9,717.7 L383.0,717.7 L384.0,717.7 L385.0,717.6 L386.1,717.6 L387.1,717.6 L388.1,717.6 L389.1,717.5 L390.2,717.5 L391.2,717.5 L392.2,717.4 L393.2,717.4 L394.2,717.4 L395.2,717.3 L396.1,717.3 L397.1,717.3 L398.1,717.3 L399.0,717.2 L400.0,717.2 L401.1,717.2 L402.1,717.1 L403.2,717.1 L404.2,717.1 L405.3,717.0 L406.3,717.0 L407.4,717.0 L408.4,716.9 L409.4,716.9 L410.5,716.9 L411.5,716.8 L412.6,716.8 L413.6,716.8 L414.6,716.8 L415.6,716.7 L416.7,716.7 L417.7,716.7 L418.7,716.6 L419.7,716.6 L420.7,716.6 L421.7,716.5 L422.7,716.5 L423.7,716.5 L424.7,716.5 L425.7,716.4 L426.7,716.4 L427.7,716.4 L428.7,716.3 L429.6,716.3 L430.6,716.3 L431.6,716.2 L432.5,716.2 L433.5,716.2 L434.4,716.2 L435.4,716.1 L436.3,716.1 L437.2,716.1 L438.2,716.1 L439.1,716.0 L440.0,716.0 L441.1,716.0 L442.1,715.9 L443.2,715.9 L444.2,715.9 L445.2,715.8 L446.2,715.8 L447.2,715.8 L448.2,715.8 L449.2,715.7 L450.1,715.7 L451.1,715.7 L452.1,715.7 L453.0,715.6 L454.0,715.6 L454.9,715.6 L455.9,715.5 L456.8,715.5 L457.8,715.5 L458.8,715.5 L459.8,715.4 L460.7,715.4 L461.7,715.4 L462.7,715.4 L463.8,715.3 L464.8,715.3 L465.8,715.3 L466.9,715.2 L468.0,715.2 L468.9,715.2 L469.8,715.1 L470.7,715.1 L471.7,715.1 L472.6,715.1 L473.5,715.0 L474.5,715.0 L475.4,715.0 L476.4,714.9 L477.4,714.9 L478.3,714.9 L479.3,714.8 L480.3,714.8 L481.3,714.8 L482.2,714.7 L483.2,714.7 L484.2,714.7 L485.2,714.6 L486.2,714.6 L487.2,714.6 L488.2,714.5 L489.3,714.5 L490.3,714.5 L491.3,714.5 L492.3,714.4 L493.3,714.4 L494.4,714.4 L495.4,714.3 L496.4,714.3 L497.5,714.3 L498.5,714.2 L499.6,714.2 L500.6,714.2 L501.6,714.2 L502.7,714.1 L503.7,714.1 L504.8,714.1 L505.8,714.1 L506.9,714.0 L507.9,714.0 L509.0,714.0 L509.9,714.0 L510.9,714.0 L511.9,714.0 L512.8,713.9 L513.8,713.9 L514.8,713.9 L515.8,713.9 L516.8,713.9 L517.7,713.9 L518.7,713.9 L519.7,713.8 L520.7,713.8 L521.8,713.8 L522.8,713.8 L523.8,713.8 L524.8,713.8 L525.8,713.8 L526.8,713.8 L527.9,713.8 L528.9,713.8 L529.9,713.7 L530.9,713.7 L532.0,713.7 L533.0,713.7 L534.0,713.7 L535.1,713.7 L536.1,713.7 L537.1,713.7 L538.1,713.7 L539.2,713.7 L540.2,713.7 L541.2,713.7 L542.2,713.7 L543.3,713.7 L544.3,713.7 L545.3,713.7 L546.3,713.7 L547.3,713.7 L548.3,713.7 L549.3,713.6 L550.3,713.6 L551.3,713.6 L552.3,713.6 L553.3,713.6 L554.2,713.6 L555.2,713.6 L556.2,713.6 L557.2,713.6 L558.1,713.6 L559.1,713.6 L560.0,713.6 L561.1,713.6 L562.1,713.6 L563.1,713.6 L564.2,713.6 L565.2,713.6 L566.2,713.6 L567.2,713.6 L568.2,713.6 L569.2,713.6 L570.1,713.6 L571.1,713.5 L572.1,713.5 L573.0,713.5 L574.0,713.5 L575.0,713.5 L575.9,713.5 L576.9,713.5 L577.8,713.5 L578.8,713.5 L579.8,713.5 L580.7,713.5 L581.7,713.5 L582.6,713.5 L583.6,713.5 L584.6,713.5 L585.5,713.5 L586.5,713.5 L587.5,713.5 L588.5,713.5 L589.5,713.5 L590.5,713.5 L591.5,713.5 L592.5,713.5 L593.6,713.5 L594.6,713.5 L595.7,713.5 L596.7,713.5 L597.8,713.5 L598.9,713.5 L600.0,713.5 L600.9,713.5 L601.8,713.5 L602.7,713.5 L603.7,713.5 L604.6,713.5 L605.6,713.5 L606.6,713.5 L607.6,713.5 L608.6,713.5 L609.6,713.5 L610.6,713.5 L611.6,713.5 L612.6,713.5 L613.7,713.5 L614.7,713.5 L615.8,713.4 L616.8,713.4 L617.9,713.4 L619.0,713.4 L620.1,713.4 L621.1,713.4 L622.2,713.4 L623.3,713.4 L624.4,713.4 L625.5,713.4 L626.6,713.4 L627.7,713.4 L628.8,713.4 L629.9,713.4 L631.0,713.4 L632.0,713.4 L633.1,713.4 L634.2,713.4 L635.3,713.4 L636.4,713.4 L637.4,713.4 L638.5,713.4 L639.6,713.4 L640.6,713.4 L641.7,713.4 L642.7,713.4 L643.8,713.4 L644.8,713.4 L645.8,713.4 L646.8,713.4 L647.8,713.4 L648.8,713.4 L649.8,713.4 L650.7,713.4 L651.7,713.5 L652.6,713.5 L653.6,713.5 L654.5,713.5 L655.4,713.5 L656.3,713.5 L657.1,713.6 L658.0,713.6 L658.8,713.6 L659.6,713.6 L660.4,713.6 L661.2,713.7 L662.0,713.7 L663.2,713.7 L664.4,713.8 L665.6,713.9 L666.7,713.9 L667.8,714.0 L668.9,714.1 L669.9,714.1 L670.9,714.2 L671.9,714.3 L672.9,714.3 L673.9,714.4 L674.8,714.5 L675.8,714.6 L676.7,714.7 L677.6,714.7 L678.5,714.8 L679.4,714.9 L680.4,715.0 L681.3,715.1 L682.2,715.2 L683.1,715.2 L684.1,715.3 L685.0,715.4 L686.0,715.5 L687.0,715.6 L688.0,715.7 L689.0,715.8 L690.0,715.9 L690.9,715.9 L691.9,716.0 L692.8,716.1 L693.8,716.2 L694.7,716.3 L695.7,716.4 L696.6,716.5 L697.6,716.6 L698.6,716.7 L699.6,716.8 L700.7,716.9 L701.8,717.0 L702.9,717.1 L704.0,717.2 L704.9,717.3 L705.7,717.3 L706.6,717.4 L707.5,717.5 L708.5,717.6 L709.4,717.6 L710.4,717.7 L711.4,717.8 L712.4,717.8 L713.4,717.9 L714.4,718.0 L715.5,718.0 L716.5,718.1 L717.5,718.2 L718.6,718.3 L719.7,718.3 L720.7,718.4 L721.8,718.5 L722.9,718.5 L723.9,718.6 L725.0,718.7 L726.1,718.8 L727.1,718.8 L728.2,718.9 L729.2,719.0 L730.3,719.0 L731.3,719.1 L732.3,719.2 L733.3,719.3 L734.3,719.3 L735.3,719.4 L736.3,719.5 L737.2,719.6 L738.2,719.6 L739.1,719.7 L740.0,719.8 L741.1,719.9 L742.2,720.0 L743.3,720.1 L744.4,720.2 L745.5,720.3 L746.6,720.5 L747.6,720.6 L748.7,720.7 L749.7,720.8 L750.8,721.0 L751.8,721.1 L752.8,721.2 L753.8,721.3 L754.8,721.4 L755.7,721.5 L756.7,721.6 L757.7,721.7 L758.6,721.8 L759.5,721.9 L760.4,722.0 L761.3,722.1 L762.2,722.1 L763.0,722.2 L764.1,722.3 L765.2,722.3 L766.3,722.4 L767.3,722.4 L768.3,722.5 L769.2,722.5 L770.2,722.5 L771.2,722.5 L772.1,722.5 L773.1,722.5 L774.0,722.4 L775.0,722.4 L776.1,722.3 L777.1,722.3 L778.2,722.2 L779.3,722.1 L780.3,722.0 L781.4,721.8 L782.5,721.7 L783.5,721.6 L784.6,721.4 L785.7,721.2 L786.8,721.0 L787.8,720.8 L788.7,720.6 L789.7,720.4 L790.7,720.2 L791.7,720.0 L792.7,719.8 L793.7,719.5 L794.7,719.3 L795.7,719.0 L796.7,718.7 L797.6,718.4 L798.6,718.1 L799.6,717.8 L800.5,717.4 L801.4,717.0 L802.4,716.6 L803.3,716.2 L804.3,715.8 L805.2,715.4 L806.1,714.9 L807.0,714.4 L807.9,713.9 L808.8,713.4 L809.7,712.9 L810.5,712.3 L811.4,711.7 L812.1,711.1 L812.9,710.5 L813.7,709.8 L814.4,709.1 L815.1,708.3 L815.7,707.5 L816.4,706.7 L817.0,705.9 L817.6,705.1 L818.2,704.2 L818.7,703.3 L819.3,702.4 L819.9,701.5 L820.5,700.5 L821.1,699.6 L821.6,698.8 L822.1,698.0 L822.7,697.1 L823.2,696.2 L823.7,695.3 L824.2,694.4 L824.7,693.5 L825.2,692.6 L825.8,691.7 L826.3,690.7 L826.8,689.8 L827.3,688.9 L827.7,687.9 L828.2,687.0 L828.7,686.0 L829.1,685.1 L829.6,684.1 L830.0,683.2 L830.4,682.2 L830.8,681.3 L831.2,680.3 L831.6,679.4 L832.0,678.4 L832.4,677.4 L832.7,676.5 L833.1,675.5 L833.4,674.5 L833.8,673.6 L834.1,672.6 L834.5,671.6 L834.8,670.6 L835.2,669.7 L835.5,668.7 L835.8,667.7 L836.2,666.7 L836.6,665.7 L836.9,664.8 L837.3,663.8 L837.6,662.8 L838.0,661.9 L838.4,660.9 L838.7,659.9 L839.1,658.9 L839.4,658.0 L839.8,657.0 L840.1,656.0 L840.5,655.0 L840.8,654.0 L841.1,653.0 L841.4,652.0 L841.7,651.0 L842.0,649.9 L842.3,648.9 L842.5,647.9 L842.8,646.9 L843.0,645.9 L843.2,644.9 L843.4,643.9 L843.6,642.9 L843.8,641.9 L843.9,640.8 L844.1,639.8 L844.2,638.8 L844.4,637.7 L844.6,636.7 L844.7,635.7 L844.9,634.6 L845.0,633.6 L845.2,632.5 L845.3,631.5 L845.5,630.5 L845.6,629.4 L845.8,628.4 L846.0,627.4 L846.1,626.3 L846.3,625.3 L846.5,624.3 L846.7,623.2 L846.8,622.2 L847.0,621.2 L847.2,620.1 L847.4,619.1 L847.5,618.1 L847.7,617.0 L847.9,616.0 L848.1,615.0 L848.2,614.0 L848.4,612.9 L848.6,611.9 L848.7,610.9 L848.9,609.8 L849.0,608.8 L849.2,607.8 L849.4,606.8 L849.5,605.7 L849.7,604.7 L849.8,603.6 L850.0,602.6 L850.1,601.6 L850.3,600.5 L850.4,599.5 L850.6,598.5 L850.7,597.5 L850.9,596.4 L851.0,595.4 L851.2,594.4 L851.3,593.3 L851.4,592.3 L851.6,591.2 L851.7,590.1 L851.9,589.1 L852.0,588.0 L852.1,587.0 L852.2,586.1 L852.3,585.1 L852.5,584.1 L852.6,583.1 L852.7,582.1 L852.8,581.1 L852.9,580.1 L853.0,579.1 L853.1,578.1 L853.2,577.1 L853.3,576.1 L853.4,575.1 L853.5,574.0 L853.6,573.0 L853.7,572.0 L853.8,571.0 L853.9,570.0 L854.1,569.0 L854.2,568.0 L854.3,567.0 L854.4,566.0 L854.5,565.0 L854.6,564.0 L854.7,563.0 L854.9,562.0 L855.0,561.0 L855.1,560.0 L855.2,558.9 L855.4,557.9 L855.5,556.9 L855.6,555.9 L855.8,554.9 L855.9,553.9 L856.0,552.9 L856.2,551.9 L856.3,550.9 L856.4,549.9 L856.6,549.0 L856.7,548.0 L856.8,547.0 L856.9,546.0 L857.1,545.0 L857.2,544.0 L857.3,543.0 L857.4,542.0 L857.5,541.0 L857.7,539.9 L857.8,538.9 L857.9,537.9 L858.0,536.9 L858.1,535.9 L858.2,534.8 L858.3,533.8 L858.5,532.8 L858.6,531.8 L858.7,530.8 L858.8,529.8 L858.9,528.8 L859.0,527.8 L859.1,526.8 L859.2,525.8 L859.4,524.8 L859.5,523.9 L859.6,522.9 L859.7,522.0 L859.8,520.9 L860.0,519.8 L860.1,518.7 L860.3,517.6 L860.4,516.5 L860.6,515.4 L860.7,514.4 L860.9,513.3 L861.0,512.3 L861.2,511.2 L861.3,510.2 L861.5,509.2 L861.6,508.2 L861.8,507.3 L861.9,506.3 L862.1,505.2 L862.2,504.2 L862.4,503.2 L862.5,502.2 L862.7,501.2 L862.8,500.2 L863.0,499.3 L863.2,498.3 L863.3,497.3 L863.5,496.3 L863.6,495.3 L863.7,494.3 L863.9,493.2 L864.0,492.2 L864.1,491.1 L864.2,490.0 L864.3,489.0 L864.4,487.9 L864.6,486.9 L864.7,485.8 L864.8,484.8 L865.0,483.9 L865.2,483.0 L865.5,481.8 L865.7,480.6 L866.0,479.4 L866.3,478.2 L866.7,477.3 L867.1,476.5 L867.5,476.0 L868.4,475.9 L869.4,476.0 L869.4,476.0 L870.1,476.9 L870.7,477.9 L871.3,479.0 L871.6,479.8 L871.8,480.8 L872.0,481.7 L872.2,482.8 L872.3,483.9 L872.5,485.0 L872.6,485.9 L872.8,486.8 L872.9,487.8 L873.0,488.8 L873.1,489.9 L873.3,491.0 L873.4,492.0 L873.5,493.1 L873.7,494.2 L873.8,495.3 L874.0,496.4 L874.2,497.4 L874.4,498.4 L874.6,499.4 L874.8,500.4 L875.0,501.4 L875.2,502.4 L875.5,503.4 L875.7,504.4 L875.9,505.5 L876.1,506.5 L876.4,507.5 L876.6,508.6 L876.8,509.6 L877.0,510.6 L877.2,511.6 L877.4,512.7 L877.6,513.7 L877.8,514.7 L878.0,515.8 L878.1,516.8 L878.3,517.8 L878.5,518.9 L878.7,519.9 L878.9,520.9 L879.1,522.0 L879.3,523.0 L879.5,524.0 L879.7,525.0 L879.9,526.1 L880.1,527.1 L880.4,528.1 L880.6,529.1 L880.8,530.1 L881.0,531.1 L881.2,532.1 L881.4,533.1 L881.7,534.1 L881.9,535.1 L882.1,536.2 L882.3,537.2 L882.5,538.2 L882.7,539.2 L882.9,540.2 L883.1,541.3 L883.2,542.3 L883.4,543.3 L883.6,544.4 L883.8,545.4 L884.0,546.4 L884.2,547.4 L884.4,548.5 L884.6,549.5 L884.8,550.5 L885.0,551.5 L885.2,552.5 L885.5,553.6 L885.7,554.6 L885.9,555.7 L886.2,556.7 L886.4,557.7 L886.7,558.7 L887.0,559.8 L887.2,560.8 L887.5,561.8 L887.8,562.8 L888.1,563.7 L888.4,564.7 L888.8,565.8 L889.1,566.8 L889.5,567.8 L889.9,568.8 L890.3,569.8 L890.7,570.8 L891.1,571.8 L891.5,572.8 L891.9,573.8 L892.4,574.8 L892.8,575.8 L893.2,576.7 L893.7,577.6 L894.1,578.6 L894.6,579.5 L895.0,580.4 L895.5,581.3 L896.0,582.2 L896.4,583.1 L896.9,584.1 L897.4,585.0 L897.8,585.9 L898.3,586.8 L898.8,587.7 L899.2,588.6 L899.7,589.6 L900.1,590.5 L900.5,591.4 L901.0,592.3 L901.4,593.2 L901.9,594.2 L902.4,595.1 L902.8,596.0 L903.3,596.9 L903.8,597.8 L904.3,598.7 L904.8,599.6 L905.4,600.5 L905.9,601.4 L906.4,602.3 L907.0,603.2 L907.6,604.0 L908.1,604.9 L908.7,605.8 L909.3,606.7 L909.8,607.6 L910.4,608.5 L911.0,609.4 L911.5,610.3 L912.1,611.1 L912.7,612.0 L913.3,612.9 L913.8,613.8 L914.4,614.7 L915.0,615.6 L915.6,616.5 L916.2,617.4 L916.8,618.3 L917.4,619.1 L918.0,620.0 L918.6,620.9 L919.2,621.7 L919.8,622.6 L920.4,623.4 L921.0,624.2 L921.6,625.1 L922.2,625.9 L922.8,626.8 L923.4,627.6 L924.1,628.4 L924.7,629.3 L925.3,630.1 L926.0,631.0 L926.6,631.8 L927.2,632.6 L927.8,633.4 L928.4,634.2 L929.1,635.0 L929.7,635.8 L930.3,636.6 L931.0,637.5 L931.6,638.3 L932.3,639.1 L932.9,639.9 L933.6,640.6 L934.3,641.4 L934.9,642.1 L935.6,642.8 L936.2,643.5 L937.0,644.3 L937.8,645.0 L938.6,645.8 L939.4,646.5 L940.2,647.2 L941.0,647.8 L941.8,648.5 L942.6,649.1 L943.4,649.7 L944.2,650.4 L945.0,651.0 L945.8,651.6 L946.6,652.2 L947.4,652.8 L948.2,653.4 L949.0,654.0 L949.8,654.5 L950.6,655.1 L951.4,655.7 L952.3,656.2 L953.2,656.8 L954.2,657.4 L955.0,657.8 L955.8,658.3 L956.6,658.8 L957.4,659.2 L958.3,659.7 L959.1,660.2 L960.0,660.6 L960.9,661.1 L961.8,661.6 L962.8,662.0 L963.7,662.5 L964.7,663.0 L965.6,663.4 L966.6,663.9 L967.5,664.3 L968.5,664.7 L969.5,665.1 L970.4,665.5 L971.4,665.9 L972.3,666.3 L973.3,666.6 L974.2,666.9 L975.1,667.3 L976.1,667.6 L977.1,667.9 L978.0,668.2 L979.0,668.5 L980.0,668.8 L981.0,669.1 L982.0,669.4 L983.0,669.7 L984.0,669.9 L985.0,670.2 L985.9,670.5 L986.9,670.7 L987.9,671.0 L988.9,671.2 L989.9,671.4 L990.9,671.7 L991.9,671.9 L992.9,672.1 L993.9,672.3 L995.0,672.6 L996.0,672.8 L997.0,672.9 L998.1,673.1 L999.1,673.3 L1000.1,673.5 L1001.1,673.6 L1002.2,673.8 L1003.2,674.0 L1004.2,674.1 L1005.3,674.3 L1006.3,674.4 L1007.3,674.6 L1008.4,674.7 L1009.4,674.9 L1010.4,675.0 L1011.5,675.2 L1012.5,675.3 L1013.5,675.5 L1014.5,675.6 L1015.5,675.8 L1016.6,675.9 L1017.6,676.1 L1018.6,676.2 L1019.6,676.4 L1020.6,676.5 L1021.6,676.7 L1022.6,676.8 L1023.6,676.9 L1024.6,677.1 L1025.6,677.2 L1026.6,677.3 L1027.7,677.4 L1028.7,677.5 L1029.8,677.6 L1030.8,677.7 L1031.9,677.8 L1033.0,677.9 L1033.9,678.0 L1034.9,678.0 L1035.8,678.0 L1036.7,678.1 L1037.7,678.1 L1038.6,678.1 L1039.6,678.1 L1040.5,678.2 L1041.5,678.2 L1042.5,678.2 L1043.5,678.2 L1044.4,678.2 L1045.4,678.2 L1046.4,678.1 L1047.4,678.1 L1048.4,678.1 L1049.4,678.1 L1050.4,678.1 L1051.5,678.1 L1052.5,678.1 L1053.5,678.0 L1054.6,678.0 L1055.7,678.0 L1056.7,678.0 L1057.8,678.0 L1058.9,678.0 L1060.0,678.0 L1060.9,678.0 L1061.8,678.0 L1062.7,678.0 L1063.7,678.0 L1064.6,678.0 L1065.5,678.0 L1066.5,678.0 L1067.5,678.0 L1068.4,678.0 L1069.4,678.0 L1070.4,678.0 L1071.4,678.0 L1072.4,678.0 L1073.4,678.0 L1074.4,678.0 L1075.4,678.0 L1076.4,678.0 L1077.4,678.0 L1078.4,678.0 L1079.5,678.0 L1080.5,678.0 L1081.5,678.0 L1082.5,678.0 L1083.6,678.0 L1084.6,678.0 L1085.6,677.9 L1086.7,677.9 L1087.7,677.9 L1088.7,677.9 L1089.8,677.9 L1090.8,677.9 L1091.8,677.9 L1092.9,677.9 L1093.9,677.9 L1094.9,677.9 L1095.9,677.9 L1097.0,677.9 L1098.0,677.9 L1099.0,677.9 L1100.0,677.9 L1101.0,677.9" fill="none" stroke="#7a7a7a" stroke-width="3.8" stroke-linejoin="round"/>
<path d="M179.0,1123.9 L180.0,1123.9 L181.0,1123.9 L182.0,1123.9 L183.0,1123.9 L184.0,1123.9 L185.1,1123.9 L186.1,1123.9 L187.1,1123.9 L188.1,1123.9 L189.1,1123.9 L190.2,1123.9 L191.2,1123.9 L192.2,1123.9 L193.2,1123.9 L194.3,1123.9 L195.3,1123.9 L196.3,1123.9 L197.4,1123.9 L198.4,1123.9 L199.4,1123.9 L200.5,1123.9 L201.5,1123.9 L202.6,1123.9 L203.6,1124.0 L204.6,1124.0 L205.7,1124.0 L206.7,1124.0 L207.7,1124.0 L208.8,1124.0 L209.8,1124.0 L210.8,1124.0 L211.9,1124.0 L212.9,1124.0 L213.9,1124.0 L215.0,1124.0 L216.0,1124.0 L217.0,1124.0 L218.0,1124.0 L219.1,1124.0 L220.1,1124.0 L221.1,1124.0 L222.1,1124.0 L223.1,1124.0 L224.1,1124.0 L225.1,1124.0 L226.1,1124.0 L227.2,1124.0 L228.1,1124.0 L229.1,1124.0 L230.1,1124.0 L231.1,1124.0 L232.1,1124.0 L233.1,1124.0 L234.1,1123.9 L235.1,1123.9 L236.0,1123.9 L237.0,1123.9 L237.9,1123.9 L238.9,1123.9 L239.9,1123.8 L240.8,1123.8 L241.8,1123.8 L242.7,1123.8 L243.6,1123.7 L244.5,1123.7 L245.5,1123.7 L246.4,1123.6 L247.3,1123.6 L248.2,1123.6 L249.1,1123.5 L250.0,1123.5 L251.1,1123.4 L252.2,1123.4 L253.3,1123.3 L254.4,1123.3 L255.5,1123.2 L256.6,1123.1 L257.6,1123.1 L258.7,1123.0 L259.8,1122.9 L260.9,1122.8 L261.9,1122.8 L263.0,1122.7 L264.0,1122.6 L265.1,1122.5 L266.1,1122.4 L267.2,1122.3 L268.2,1122.3 L269.2,1122.2 L270.2,1122.1 L271.3,1122.0 L272.3,1121.9 L273.3,1121.8 L274.3,1121.7 L275.3,1121.6 L276.3,1121.5 L277.3,1121.4 L278.2,1121.3 L279.2,1121.2 L280.2,1121.1 L281.2,1121.0 L282.1,1120.9 L283.1,1120.8 L284.0,1120.7 L285.0,1120.6 L285.9,1120.5 L286.9,1120.4 L287.8,1120.3 L288.7,1120.2 L289.6,1120.1 L290.5,1120.0 L291.4,1119.9 L292.3,1119.9 L293.2,1119.8 L294.1,1119.7 L295.0,1119.6 L295.9,1119.5 L297.0,1119.4 L298.1,1119.3 L299.1,1119.2 L300.2,1119.0 L301.2,1118.9 L302.1,1118.8 L303.1,1118.7 L304.1,1118.6 L305.0,1118.5 L305.9,1118.3 L306.8,1118.2 L307.7,1118.1 L308.7,1118.0 L309.6,1117.9 L310.5,1117.7 L311.4,1117.6 L312.3,1117.5 L313.3,1117.4 L314.3,1117.3 L315.2,1117.2 L316.2,1117.1 L317.3,1117.0 L318.3,1116.9 L319.4,1116.8 L320.5,1116.7 L321.7,1116.6 L322.9,1116.6 L324.1,1116.5 L324.9,1116.5 L325.6,1116.4 L326.4,1116.4 L327.2,1116.3 L328.0,1116.3 L328.8,1116.3 L329.6,1116.3 L330.5,1116.2 L331.3,1116.2 L332.1,1116.2 L333.0,1116.1 L333.8,1116.1 L334.7,1116.1 L335.5,1116.1 L336.4,1116.1 L337.3,1116.1 L338.2,1116.0 L339.1,1116.0 L340.0,1116.0 L340.9,1116.0 L341.8,1116.0 L342.7,1116.0 L343.6,1116.0 L344.6,1116.0 L345.5,1116.0 L346.5,1116.0 L347.4,1116.0 L348.4,1116.0 L349.3,1115.9 L350.3,1115.9 L351.3,1115.9 L352.3,1116.0 L353.3,1116.0 L354.3,1116.0 L355.3,1116.0 L356.3,1116.0 L357.3,1116.0 L358.3,1116.0 L359.4,1116.0 L360.4,1116.0 L361.4,1116.0 L362.5,1116.0 L363.5,1116.0 L364.6,1116.0 L365.6,1116.0 L366.7,1116.0 L367.8,1116.0 L368.9,1116.0 L370.0,1116.1 L371.0,1116.1 L372.1,1116.1 L373.2,1116.1 L374.4,1116.1 L375.5,1116.1 L376.6,1116.1 L377.7,1116.1 L378.8,1116.1 L380.0,1116.1 L381.1,1116.1 L382.3,1116.1 L383.4,1116.2 L384.6,1116.2 L385.7,1116.2 L386.9,1116.2 L388.1,1116.2 L389.2,1116.2 L390.4,1116.2 L391.6,1116.2 L392.8,1116.2 L394.0,1116.2 L395.2,1116.2 L396.4,1116.2 L397.6,1116.2 L398.8,1116.2 L400.0,1116.2 L400.8,1116.2 L401.6,1116.2 L402.4,1116.2 L403.3,1116.2 L404.1,1116.2 L404.9,1116.2 L405.8,1116.2 L406.6,1116.2 L407.5,1116.2 L408.4,1116.2 L409.3,1116.2 L410.2,1116.2 L411.1,1116.2 L412.0,1116.2 L412.9,1116.2 L413.8,1116.2 L414.7,1116.2 L415.6,1116.2 L416.6,1116.2 L417.5,1116.1 L418.5,1116.1 L419.4,1116.1 L420.4,1116.1 L421.4,1116.1 L422.3,1116.1 L423.3,1116.1 L424.3,1116.1 L425.3,1116.1 L426.3,1116.1 L427.3,1116.1 L428.3,1116.1 L429.3,1116.1 L430.4,1116.1 L431.4,1116.1 L432.4,1116.1 L433.5,1116.1 L434.5,1116.1 L435.5,1116.1 L436.6,1116.1 L437.7,1116.0 L438.7,1116.0 L439.8,1116.0 L440.8,1116.0 L441.9,1116.0 L443.0,1116.0 L444.1,1116.0 L445.1,1116.0 L446.2,1116.0 L447.3,1116.0 L448.4,1116.0 L449.5,1116.0 L450.6,1116.0 L451.7,1116.0 L452.8,1116.0 L453.9,1116.0 L455.0,1116.0 L456.1,1115.9 L457.3,1115.9 L458.4,1115.9 L459.5,1115.9 L460.6,1115.9 L461.7,1115.9 L462.9,1115.9 L464.0,1115.9 L465.1,1115.9 L466.2,1115.9 L467.4,1115.9 L468.5,1115.9 L469.6,1115.9 L470.8,1115.9 L471.9,1115.9 L473.0,1115.9 L474.2,1115.9 L475.3,1115.9 L476.5,1115.8 L477.6,1115.8 L478.7,1115.8 L479.9,1115.8 L481.0,1115.8 L482.2,1115.8 L483.3,1115.8 L484.4,1115.8 L485.6,1115.8 L486.7,1115.8 L487.9,1115.8 L489.0,1115.8 L490.1,1115.8 L491.3,1115.8 L492.4,1115.8 L493.5,1115.8 L494.7,1115.8 L495.8,1115.8 L496.9,1115.8 L498.1,1115.8 L499.2,1115.8 L500.3,1115.8 L501.4,1115.8 L502.6,1115.8 L503.7,1115.8 L504.8,1115.8 L505.9,1115.8 L507.0,1115.8 L508.1,1115.8 L509.2,1115.8 L510.3,1115.8 L511.4,1115.8 L512.5,1115.8 L513.6,1115.8 L514.7,1115.8 L515.8,1115.8 L516.9,1115.8 L518.0,1115.8 L519.1,1115.8 L520.1,1115.8 L521.2,1115.8 L522.3,1115.8 L523.3,1115.8 L524.4,1115.8 L525.5,1115.8 L526.5,1115.8 L527.6,1115.8 L528.6,1115.8 L529.6,1115.8 L530.7,1115.8 L531.7,1115.8 L532.7,1115.8 L533.7,1115.8 L534.7,1115.8 L535.7,1115.8 L536.7,1115.9 L537.7,1115.9 L538.7,1115.9 L539.7,1115.9 L540.7,1115.9 L541.7,1115.9 L542.6,1115.9 L543.6,1115.9 L544.5,1115.9 L545.5,1115.9 L546.4,1115.9 L547.4,1115.9 L548.3,1116.0 L549.2,1116.0 L550.1,1116.0 L551.0,1116.0 L551.9,1116.0 L552.8,1116.0 L553.7,1116.0 L554.6,1116.0 L555.4,1116.1 L556.3,1116.1 L557.1,1116.1 L558.0,1116.1 L558.8,1116.1 L559.6,1116.1 L560.5,1116.2 L561.3,1116.2 L562.1,1116.2 L562.9,1116.2 L563.7,1116.2 L564.4,1116.2 L565.2,1116.3 L566.0,1116.3 L566.7,1116.3 L567.4,1116.3 L568.2,1116.3 L568.9,1116.4 L569.6,1116.4 L570.3,1116.4 L571.0,1116.4 L571.7,1116.5 L572.3,1116.5 L573.0,1116.5 L574.3,1116.6 L575.6,1116.6 L576.9,1116.7 L578.2,1116.7 L579.4,1116.8 L580.6,1116.8 L581.7,1116.9 L582.9,1117.0 L584.0,1117.0 L585.1,1117.1 L586.2,1117.2 L587.2,1117.2 L588.3,1117.3 L589.3,1117.4 L590.3,1117.5 L591.3,1117.5 L592.3,1117.6 L593.2,1117.7 L594.2,1117.8 L595.1,1117.9 L596.1,1117.9 L597.0,1118.0 L597.9,1118.1 L598.8,1118.2 L599.7,1118.3 L600.6,1118.3 L601.5,1118.4 L602.4,1118.5 L603.2,1118.6 L604.1,1118.7 L605.0,1118.7 L605.9,1118.8 L606.8,1118.9 L607.7,1119.0 L608.6,1119.1 L609.5,1119.1 L610.4,1119.2 L611.3,1119.3 L612.2,1119.4 L613.2,1119.4 L614.1,1119.5 L615.2,1119.6 L616.2,1119.7 L617.3,1119.7 L618.4,1119.8 L619.5,1119.9 L620.5,1119.9 L621.6,1120.0 L622.7,1120.1 L623.7,1120.2 L624.8,1120.2 L625.9,1120.3 L626.9,1120.4 L628.0,1120.4 L629.1,1120.5 L630.1,1120.6 L631.1,1120.6 L632.2,1120.7 L633.2,1120.8 L634.2,1120.8 L635.3,1120.9 L636.3,1121.0 L637.3,1121.1 L638.3,1121.1 L639.2,1121.2 L640.2,1121.3 L641.2,1121.4 L642.1,1121.5 L643.0,1121.6 L644.0,1121.7 L644.9,1121.8 L645.8,1121.9 L646.6,1122.0 L647.5,1122.1 L648.6,1122.3 L649.7,1122.4 L650.8,1122.6 L651.9,1122.8 L652.9,1123.0 L653.9,1123.2 L654.9,1123.4 L655.8,1123.6 L656.8,1123.8 L657.7,1124.0 L658.7,1124.2 L659.6,1124.4 L660.6,1124.6 L661.5,1124.8 L662.5,1125.0 L663.5,1125.1 L664.5,1125.3 L665.5,1125.5 L666.5,1125.7 L667.5,1125.8 L668.5,1126.0 L669.5,1126.1 L670.6,1126.3 L671.6,1126.4 L672.6,1126.6 L673.7,1126.7 L674.7,1126.9 L675.7,1127.0 L676.8,1127.2 L677.8,1127.3 L678.9,1127.5 L679.9,1127.6 L680.9,1127.8 L682.0,1127.9 L683.0,1128.1 L684.0,1128.2 L685.0,1128.4 L686.0,1128.5 L687.0,1128.7 L688.0,1128.8 L689.1,1129.0 L690.1,1129.2 L691.0,1129.3 L692.0,1129.5 L693.0,1129.7 L694.0,1129.9 L695.0,1130.1 L696.0,1130.2 L696.9,1130.4 L697.9,1130.5 L698.9,1130.7 L699.9,1130.8 L700.9,1131.0 L701.9,1131.1 L703.0,1131.2 L704.0,1131.3 L705.0,1131.4 L705.9,1131.4 L706.9,1131.5 L707.9,1131.6 L709.0,1131.6 L710.0,1131.7 L711.0,1131.7 L712.0,1131.7 L713.1,1131.8 L714.1,1131.8 L715.1,1131.8 L716.2,1131.8 L717.2,1131.8 L718.2,1131.8 L719.2,1131.8 L720.2,1131.8 L721.2,1131.7 L722.2,1131.7 L723.1,1131.7 L724.1,1131.6 L725.0,1131.6 L726.1,1131.5 L727.2,1131.5 L728.3,1131.4 L729.3,1131.3 L730.4,1131.2 L731.5,1131.1 L732.5,1131.0 L733.6,1130.9 L734.6,1130.8 L735.6,1130.7 L736.5,1130.5 L737.4,1130.4 L738.3,1130.2 L739.2,1130.0 L740.0,1129.8 L741.1,1129.5 L742.1,1129.2 L743.1,1128.8 L744.0,1128.4 L744.9,1128.0 L745.8,1127.5 L746.8,1127.0 L747.6,1126.6 L748.5,1126.1 L749.4,1125.6 L750.4,1125.1 L751.3,1124.5 L752.3,1123.9 L753.2,1123.3 L754.2,1122.7 L755.1,1122.1 L756.0,1121.4 L756.9,1120.8 L757.8,1120.1 L758.6,1119.5 L759.4,1118.8 L760.2,1118.1 L761.0,1117.4 L761.7,1116.7 L762.5,1116.0 L763.2,1115.3 L764.0,1114.5 L764.7,1113.8 L765.4,1113.0 L766.1,1112.2 L766.7,1111.3 L767.4,1110.5 L768.0,1109.7 L768.6,1108.9 L769.1,1108.0 L769.7,1107.2 L770.2,1106.3 L770.7,1105.4 L771.2,1104.5 L771.7,1103.6 L772.2,1102.6 L772.6,1101.7 L773.1,1100.7 L773.6,1099.7 L774.0,1098.8 L774.5,1097.8 L774.9,1096.8 L775.3,1095.9 L775.7,1094.9 L776.1,1094.0 L776.5,1093.0 L776.8,1092.1 L777.2,1091.1 L777.6,1090.1 L777.9,1089.1 L778.3,1088.0 L778.6,1087.0 L778.9,1086.0 L779.3,1085.0 L779.6,1084.0 L779.9,1083.0 L780.2,1082.0 L780.5,1081.0 L780.8,1080.0 L781.1,1079.0 L781.4,1078.0 L781.7,1076.9 L782.0,1075.9 L782.3,1074.9 L782.5,1073.9 L782.8,1072.9 L783.0,1071.9 L783.3,1070.9 L783.5,1069.9 L783.8,1068.9 L784.0,1067.9 L784.2,1066.8 L784.5,1065.8 L784.7,1064.7 L785.0,1063.7 L785.2,1062.6 L785.4,1061.7 L785.6,1060.7 L785.8,1059.8 L786.0,1058.8 L786.2,1057.9 L786.4,1056.9 L786.6,1055.9 L786.8,1055.0 L787.0,1054.0 L787.2,1053.0 L787.4,1052.0 L787.6,1051.0 L787.8,1050.0 L788.0,1049.0 L788.2,1048.0 L788.4,1047.0 L788.6,1046.0 L788.8,1045.0 L788.9,1044.0 L789.1,1043.0 L789.3,1042.0 L789.5,1041.0 L789.6,1040.0 L789.8,1039.1 L790.0,1038.1 L790.1,1037.1 L790.3,1036.2 L790.5,1035.2 L790.6,1034.2 L790.8,1033.2 L790.9,1032.3 L791.1,1031.3 L791.2,1030.3 L791.4,1029.3 L791.5,1028.3 L791.7,1027.3 L791.8,1026.3 L792.0,1025.3 L792.1,1024.3 L792.3,1023.2 L792.4,1022.2 L792.6,1021.2 L792.7,1020.1 L792.8,1019.2 L793.0,1018.2 L793.1,1017.2 L793.2,1016.2 L793.3,1015.2 L793.4,1014.2 L793.6,1013.2 L793.7,1012.2 L793.8,1011.2 L793.9,1010.2 L794.0,1009.1 L794.2,1008.1 L794.3,1007.0 L794.4,1006.0 L794.5,1005.0 L794.6,1003.9 L794.7,1002.9 L794.8,1001.9 L794.9,1000.8 L795.1,999.8 L795.2,998.8 L795.3,997.8 L795.4,996.8 L795.5,995.8 L795.6,994.8 L795.7,993.9 L795.8,992.9 L795.9,992.0 L796.0,990.9 L796.1,989.8 L796.3,988.8 L796.4,987.8 L796.5,986.7 L796.6,985.7 L796.7,984.8 L796.8,983.8 L796.9,982.8 L797.1,981.8 L797.2,980.8 L797.3,979.8 L797.4,978.9 L797.5,977.8 L797.6,976.8 L797.7,975.8 L797.8,974.7 L797.9,973.6 L798.0,972.5 L798.1,971.3 L798.2,970.4 L798.2,969.5 L798.3,968.6 L798.4,967.7 L798.4,966.8 L798.5,965.8 L798.6,964.9 L798.6,963.9 L798.7,962.9 L798.8,961.9 L798.8,960.9 L798.9,959.9 L798.9,958.9 L799.0,957.9 L799.0,956.9 L799.1,955.8 L799.2,954.8 L799.2,953.8 L799.3,952.7 L799.3,951.7 L799.4,950.6 L799.4,949.6 L799.5,948.5 L799.5,947.4 L799.6,946.4 L799.7,945.3 L799.7,944.3 L799.8,943.2 L799.8,942.2 L799.9,941.1 L800.0,940.1 L800.0,939.1 L800.1,938.0 L800.2,937.0 L800.2,936.0 L800.3,935.0 L800.4,934.0 L800.4,933.0 L800.5,931.9 L800.6,930.9 L800.7,929.9 L800.7,928.9 L800.8,927.8 L800.9,926.8 L801.0,925.8 L801.1,924.7 L801.1,923.7 L801.2,922.7 L801.3,921.6 L801.4,920.6 L801.5,919.6 L801.6,918.5 L801.6,917.5 L801.7,916.5 L801.8,915.5 L801.9,914.4 L802.0,913.4 L802.1,912.4 L802.1,911.4 L802.2,910.4 L802.3,909.4 L802.4,908.4 L802.5,907.4 L802.6,906.4 L802.6,905.4 L802.7,904.4 L802.8,903.4 L802.9,902.5 L802.9,901.5 L803.0,900.6 L803.1,899.6 L803.2,898.5 L803.3,897.4 L803.4,896.4 L803.4,895.3 L803.5,894.3 L803.6,893.2 L803.7,892.2 L803.8,891.1 L803.9,890.1 L804.0,889.0 L804.0,888.0 L804.1,887.0 L804.2,886.0 L804.3,885.0 L804.4,883.9 L804.4,882.9 L804.5,881.9 L804.6,880.9 L804.7,879.9 L804.8,878.9 L804.8,877.9 L804.9,876.9 L805.0,876.0 L805.1,875.0 L805.2,874.0 L805.2,873.0 L805.3,872.0 L805.4,871.0 L805.5,870.0 L805.5,869.0 L805.6,868.0 L805.7,867.0 L805.7,866.0 L805.8,865.1 L805.9,864.1 L806.0,863.2 L806.0,862.2 L806.1,861.3 L806.2,860.3 L806.2,859.4 L806.3,858.4 L806.4,857.4 L806.4,856.5 L806.5,855.5 L806.6,854.5 L806.7,853.4 L806.7,852.4 L806.8,851.3 L806.9,850.2 L806.9,849.1 L807.0,848.0 L807.1,847.1 L807.1,846.2 L807.2,845.3 L807.2,844.4 L807.3,843.5 L807.3,842.5 L807.4,841.5 L807.4,840.6 L807.5,839.6 L807.5,838.6 L807.6,837.6 L807.6,836.5 L807.7,835.5 L807.7,834.5 L807.8,833.4 L807.8,832.4 L807.9,831.3 L807.9,830.2 L808.0,829.2 L808.0,828.1 L808.1,827.0 L808.1,826.0 L808.2,824.9 L808.2,823.8 L808.3,822.7 L808.3,821.7 L808.4,820.6 L808.4,819.5 L808.5,818.4 L808.5,817.4 L808.6,816.3 L808.6,815.3 L808.7,814.2 L808.8,813.2 L808.8,812.2 L808.9,811.2 L808.9,810.2 L809.0,809.2 L809.1,808.2 L809.1,807.2 L809.2,806.3 L809.2,805.3 L809.3,804.4 L809.4,803.3 L809.5,802.2 L809.5,801.2 L809.6,800.1 L809.7,799.1 L809.8,798.0 L809.9,797.0 L809.9,796.0 L810.0,794.9 L810.1,793.9 L810.2,792.9 L810.3,791.9 L810.4,790.9 L810.5,789.9 L810.6,789.0 L810.6,788.0 L810.7,787.0 L810.8,786.0 L810.9,785.1 L811.0,784.1 L811.1,783.1 L811.2,782.2 L811.3,781.2 L811.4,780.2 L811.5,779.3 L811.5,778.3 L811.6,777.4 L811.7,776.4 L811.8,775.5 L811.9,774.5 L812.0,773.4 L812.1,772.4 L812.2,771.3 L812.3,770.2 L812.4,769.1 L812.5,768.0 L812.6,766.9 L812.7,765.8 L812.8,764.7 L812.9,763.6 L813.0,762.6 L813.1,761.5 L813.2,760.4 L813.3,759.4 L813.4,758.3 L813.5,757.3 L813.6,756.3 L813.7,755.3 L813.8,754.3 L813.9,753.3 L814.0,752.4 L814.1,751.5 L814.2,750.5 L814.3,749.7 L814.4,748.8 L814.6,747.6 L814.7,746.3 L814.9,745.1 L815.1,743.9 L815.2,742.8 L815.4,741.7 L815.6,740.6 L815.7,739.6 L815.9,738.6 L816.1,737.7 L816.3,736.8 L816.5,736.0 L816.9,734.8 L817.2,733.8 L817.6,732.9 L818.0,731.9 L818.0,731.9 L818.4,732.9 L818.8,733.8 L819.2,734.8 L819.5,736.0 L819.7,736.8 L819.8,737.7 L819.9,738.7 L820.0,739.7 L820.0,740.8 L820.1,741.9 L820.2,743.0 L820.2,744.2 L820.3,745.4 L820.4,746.5 L820.5,747.7 L820.6,748.8 L820.7,749.8 L820.9,750.8 L821.0,751.7 L821.2,752.7 L821.4,753.7 L821.6,754.7 L821.8,755.7 L822.0,756.7 L822.2,757.7 L822.3,758.7 L822.5,759.8 L822.7,760.8 L822.9,761.9 L823.1,763.1 L823.2,764.2 L823.3,765.1 L823.4,766.0 L823.5,767.0 L823.6,767.9 L823.7,768.9 L823.8,769.9 L823.9,770.9 L823.9,772.0 L824.0,773.0 L824.1,774.0 L824.2,775.1 L824.2,776.2 L824.3,777.2 L824.4,778.3 L824.4,779.4 L824.5,780.4 L824.6,781.5 L824.6,782.6 L824.7,783.7 L824.8,784.7 L824.9,785.8 L824.9,786.9 L825.0,787.9 L825.1,789.0 L825.2,790.0 L825.3,791.0 L825.4,792.1 L825.5,793.1 L825.6,794.1 L825.7,795.1 L825.8,796.2 L825.9,797.2 L826.0,798.2 L826.1,799.2 L826.2,800.3 L826.3,801.3 L826.4,802.3 L826.5,803.3 L826.7,804.4 L826.8,805.4 L826.9,806.4 L827.0,807.5 L827.1,808.5 L827.2,809.5 L827.3,810.5 L827.4,811.6 L827.5,812.6 L827.6,813.6 L827.7,814.7 L827.8,815.7 L827.9,816.7 L828.0,817.7 L828.1,818.7 L828.2,819.7 L828.2,820.7 L828.3,821.7 L828.4,822.7 L828.5,823.7 L828.6,824.7 L828.6,825.7 L828.7,826.7 L828.8,827.7 L828.9,828.8 L828.9,829.8 L829.0,830.8 L829.1,831.8 L829.2,832.8 L829.3,833.8 L829.3,834.8 L829.4,835.8 L829.5,836.9 L829.6,837.9 L829.7,838.9 L829.8,839.9 L829.9,841.0 L830.0,842.0 L830.1,843.0 L830.2,844.0 L830.3,845.0 L830.4,846.0 L830.5,847.0 L830.6,848.0 L830.7,849.0 L830.9,850.0 L831.0,851.0 L831.1,852.0 L831.2,853.0 L831.3,854.1 L831.5,855.1 L831.6,856.1 L831.7,857.1 L831.8,858.1 L832.0,859.2 L832.1,860.2 L832.2,861.2 L832.3,862.2 L832.4,863.2 L832.6,864.2 L832.7,865.2 L832.8,866.1 L832.9,867.1 L833.1,868.1 L833.2,869.0 L833.3,870.0 L833.4,870.9 L833.5,872.0 L833.7,873.0 L833.8,874.1 L833.9,875.1 L834.0,876.2 L834.2,877.2 L834.3,878.3 L834.4,879.3 L834.5,880.3 L834.7,881.3 L834.8,882.3 L834.9,883.3 L835.0,884.3 L835.2,885.3 L835.3,886.3 L835.4,887.3 L835.5,888.3 L835.7,889.2 L835.8,890.2 L835.9,891.1 L836.1,892.1 L836.2,893.0 L836.4,894.1 L836.5,895.2 L836.7,896.2 L836.9,897.3 L837.0,898.3 L837.2,899.3 L837.4,900.4 L837.5,901.4 L837.7,902.4 L837.9,903.4 L838.0,904.4 L838.2,905.4 L838.4,906.4 L838.6,907.4 L838.7,908.5 L838.9,909.5 L839.1,910.5 L839.2,911.5 L839.4,912.6 L839.5,913.6 L839.7,914.6 L839.8,915.6 L840.0,916.7 L840.2,917.7 L840.3,918.7 L840.5,919.7 L840.6,920.8 L840.8,921.8 L841.0,922.9 L841.1,924.0 L841.3,925.0 L841.5,926.1 L841.7,927.2 L841.9,928.2 L842.1,929.1 L842.2,930.1 L842.4,931.1 L842.6,932.1 L842.8,933.1 L843.0,934.1 L843.2,935.1 L843.5,936.1 L843.7,937.1 L843.9,938.1 L844.1,939.1 L844.3,940.2 L844.5,941.2 L844.7,942.2 L844.9,943.2 L845.1,944.2 L845.3,945.2 L845.5,946.2 L845.7,947.2 L845.9,948.2 L846.1,949.2 L846.3,950.2 L846.5,951.2 L846.6,952.2 L846.8,953.2 L846.9,954.2 L847.1,955.2 L847.3,956.2 L847.4,957.2 L847.6,958.2 L847.7,959.2 L847.9,960.1 L848.0,961.1 L848.2,962.1 L848.3,963.1 L848.5,964.1 L848.7,965.1 L848.8,966.0 L849.0,967.0 L849.2,968.0 L849.4,969.0 L849.6,970.0 L849.8,971.0 L850.1,972.0 L850.3,973.1 L850.5,974.1 L850.8,975.1 L851.0,976.1 L851.3,977.2 L851.5,978.2 L851.8,979.2 L852.1,980.2 L852.3,981.2 L852.6,982.2 L852.8,983.2 L853.1,984.2 L853.4,985.2 L853.6,986.2 L853.8,987.1 L854.1,988.1 L854.3,989.0 L854.5,990.0 L854.8,991.1 L855.0,992.1 L855.2,993.1 L855.4,994.1 L855.6,995.1 L855.9,996.1 L856.1,997.0 L856.3,998.0 L856.5,998.9 L856.7,999.9 L857.0,1000.8 L857.2,1001.8 L857.5,1002.7 L857.8,1003.7 L858.1,1004.7 L858.5,1005.7 L858.8,1006.7 L859.2,1007.6 L859.5,1008.6 L859.9,1009.6 L860.3,1010.5 L860.7,1011.5 L861.1,1012.4 L861.5,1013.4 L861.9,1014.4 L862.4,1015.4 L862.8,1016.4 L863.3,1017.4 L863.7,1018.3 L864.1,1019.1 L864.5,1020.0 L865.0,1020.9 L865.4,1021.8 L865.9,1022.7 L866.4,1023.7 L866.8,1024.6 L867.3,1025.5 L867.8,1026.4 L868.3,1027.4 L868.8,1028.3 L869.3,1029.2 L869.8,1030.1 L870.3,1031.0 L870.8,1031.9 L871.4,1032.7 L871.9,1033.6 L872.4,1034.4 L872.9,1035.2 L873.5,1036.1 L874.1,1037.0 L874.7,1037.9 L875.4,1038.8 L876.0,1039.7 L876.6,1040.5 L877.2,1041.3 L877.9,1042.2 L878.5,1043.0 L879.2,1043.8 L879.8,1044.5 L880.5,1045.3 L881.2,1046.0 L881.8,1046.8 L882.5,1047.5 L883.3,1048.3 L884.0,1049.1 L884.8,1049.8 L885.6,1050.6 L886.4,1051.3 L887.2,1052.0 L888.1,1052.7 L888.9,1053.3 L889.7,1054.0 L890.5,1054.6 L891.3,1055.2 L892.1,1055.8 L893.0,1056.5 L893.9,1057.1 L894.8,1057.7 L895.7,1058.3 L896.7,1058.8 L897.6,1059.4 L898.5,1059.9 L899.5,1060.5 L900.5,1061.0 L901.4,1061.5 L902.3,1061.9 L903.2,1062.3 L904.1,1062.8 L905.1,1063.2 L906.1,1063.6 L907.0,1064.0 L908.0,1064.4 L909.0,1064.8 L910.0,1065.2 L911.0,1065.6 L912.0,1066.0 L913.0,1066.4 L914.0,1066.7 L914.9,1067.1 L915.9,1067.4 L916.9,1067.7 L918.0,1068.1 L919.0,1068.4 L920.0,1068.7 L921.0,1069.0 L922.1,1069.4 L923.1,1069.7 L924.1,1070.0 L925.2,1070.3 L926.2,1070.6 L927.2,1070.9 L928.1,1071.2 L929.1,1071.5 L930.1,1071.8 L931.1,1072.1 L932.1,1072.4 L933.1,1072.7 L934.1,1073.0 L935.1,1073.2 L936.2,1073.5 L937.2,1073.8 L938.3,1074.0 L939.4,1074.3 L940.5,1074.5 L941.4,1074.7 L942.3,1074.8 L943.2,1075.0 L944.1,1075.2 L945.0,1075.3 L945.8,1075.5 L946.7,1075.6 L947.6,1075.7 L948.5,1075.9 L949.5,1076.0 L950.4,1076.1 L951.4,1076.2 L952.3,1076.3 L953.4,1076.5 L954.4,1076.6 L955.5,1076.7 L956.6,1076.8 L957.7,1076.9 L958.9,1076.9 L960.2,1077.0 L961.5,1077.1 L962.8,1077.2 L963.5,1077.2 L964.1,1077.3 L964.8,1077.3 L965.6,1077.3 L966.3,1077.4 L967.1,1077.4 L967.8,1077.4 L968.6,1077.5 L969.4,1077.5 L970.2,1077.5 L971.1,1077.6 L971.9,1077.6 L972.8,1077.6 L973.6,1077.6 L974.5,1077.7 L975.4,1077.7 L976.4,1077.7 L977.3,1077.7 L978.2,1077.7 L979.2,1077.8 L980.1,1077.8 L981.1,1077.8 L982.1,1077.8 L983.1,1077.8 L984.1,1077.8 L985.1,1077.8 L986.1,1077.9 L987.2,1077.9 L988.2,1077.9 L989.3,1077.9 L990.3,1077.9 L991.4,1077.9 L992.5,1077.9 L993.5,1077.9 L994.6,1077.9 L995.7,1077.9 L996.8,1077.9 L997.9,1077.9 L999.0,1077.9 L1000.2,1077.9 L1001.3,1077.9 L1002.4,1077.9 L1003.5,1077.9 L1004.6,1077.9 L1005.8,1077.9 L1006.9,1077.9 L1008.0,1077.9 L1009.2,1077.9 L1010.3,1077.9 L1011.5,1077.9 L1012.6,1077.9 L1013.7,1077.9 L1014.9,1077.9 L1016.0,1077.9 L1017.2,1077.8 L1018.3,1077.8 L1019.4,1077.8 L1020.6,1077.8 L1021.7,1077.8 L1022.8,1077.8 L1023.9,1077.8 L1025.1,1077.8 L1026.2,1077.8 L1027.3,1077.7 L1028.4,1077.7 L1029.5,1077.7 L1030.6,1077.7 L1031.7,1077.7 L1032.8,1077.7 L1033.9,1077.7 L1035.0,1077.6 L1036.0,1077.6 L1037.1,1077.6 L1038.1,1077.6 L1039.2,1077.6 L1040.2,1077.5 L1041.2,1077.5 L1042.3,1077.5 L1043.3,1077.5 L1044.3,1077.5 L1045.3,1077.5 L1046.2,1077.4 L1047.2,1077.4 L1048.2,1077.4 L1049.1,1077.4 L1050.0,1077.4 L1050.9,1077.3 L1051.9,1077.3 L1052.7,1077.3 L1053.6,1077.3 L1054.5,1077.3 L1055.3,1077.2 L1056.2,1077.2 L1057.0,1077.2 L1058.2,1077.2 L1059.3,1077.1 L1060.5,1077.1 L1061.6,1077.1 L1062.7,1077.0 L1063.8,1077.0 L1064.9,1077.0 L1066.0,1076.9 L1067.1,1076.9 L1068.1,1076.8 L1069.2,1076.8 L1070.2,1076.7 L1071.2,1076.7 L1072.2,1076.6 L1073.2,1076.6 L1074.2,1076.5 L1075.2,1076.5 L1076.2,1076.4 L1077.2,1076.4 L1078.1,1076.3 L1079.1,1076.3 L1080.0,1076.2 L1081.0,1076.2 L1081.9,1076.1 L1082.9,1076.0 L1083.8,1076.0 L1084.8,1075.9 L1085.7,1075.9 L1086.6,1075.8 L1087.6,1075.8 L1088.5,1075.7 L1089.4,1075.6 L1090.4,1075.6 L1091.3,1075.5 L1092.3,1075.5 L1093.2,1075.4 L1094.2,1075.4 L1095.1,1075.3 L1096.1,1075.3 L1097.1,1075.2 L1098.0,1075.2 L1099.0,1075.1 L1100.0,1075.1 L1101.0,1075.0" fill="none" stroke="#7a7a7a" stroke-width="3.8" stroke-linejoin="round"/>
<text transform="translate(116,1237) scale(1,0.975)" font-size="76" >600</text>
<text transform="translate(301.8,1237) scale(1,0.975)" font-size="76" >650</text>
<text transform="translate(486.6,1237) scale(1,0.975)" font-size="76" >700</text>
<text transform="translate(681.2,1237) scale(1,0.975)" font-size="76" >750</text>
<text transform="translate(862.4,1237) scale(1,0.975)" font-size="76" >800</text>
<text transform="translate(1035.6,1237) scale(1,0.975)" font-size="76" >850</text>
<text transform="translate(357.4,1320.2) scale(1,1.03)" font-size="80.6" >Temperature (K)</text>
<text transform="translate(73.8,999) rotate(-90) scale(1,1.05)" x="0" y="0" font-size="76.2">Exothermic Heat Flow</text>
<rect x="50.2" y="140" width="12.8" height="82.6" fill="#000"/><polygon points="37.2,146 75.9,146 56.6,105.5" fill="#000"/>
<text transform="translate(214,201.5) scale(1,1.035)" font-size="75" >12% CNT</text>
<text x="215.9" y="442.2" font-size="75" >8% CNT</text>
<text transform="translate(216,684.7) scale(1,1.035)" font-size="75" >4% CNT</text>
<text transform="translate(214.9,1100) scale(1,1.035)" font-size="75" >0% CNT</text>
<text transform="translate(836.5,81.9) scale(1,1.035)" font-size="64" >T</text><text x="881" y="95" font-size="44" >x</text>
<text transform="translate(849.3,262) scale(1,1.035)" font-size="64" >T</text><text x="894" y="275" font-size="44" >x</text>
<text x="692.4" y="311.1" font-size="76" >T</text><text x="743.1" y="326" font-size="47" >g</text>
<text x="666.7" y="572.8" font-size="76" >T</text><text x="717.2" y="589" font-size="47" >g</text>
<text transform="translate(778,546.6) scale(1,1.035)" font-size="64" >T</text><text x="821" y="560" font-size="44" >x</text>
<text x="611.8" y="995.5" font-size="76" >T</text><text x="662.7" y="1010.5" font-size="47" >g</text>
<text transform="translate(718.9,951.4) scale(1,1.035)" font-size="64" >T</text><text x="763.5" y="964.7" font-size="44" >x</text>
<rect x="821.0" y="84.4" width="5" height="87.6" fill="#111"/><polygon points="815.7,170.0 831.3,170.0 831.3,173.5 828.5,175.0 827.0,181.5 826.0,186.0 821.0,186.0 820.0,181.5 818.5,175.0 815.7,173.5" fill="#000"/>
<rect x="878.5" y="299" width="5" height="87.0" fill="#111"/><polygon points="873.0,384.0 889.0,384.0 889.0,387.5 886.0,389.0 884.5,395.2 883.5,399.5 878.5,399.5 877.5,395.2 876.0,389.0 873.0,387.5" fill="#000"/>
<rect x="740.8" y="337.8" width="4.5" height="64.2" fill="#111"/><polygon points="736.5,400.5 749.5,400.5 749.0,411.9 748.3,419.1 746.3,420.1 745.8,426.5 740.2,426.5 739.7,420.1 737.7,419.1 737.0,411.9" fill="#000"/>
<rect x="708.5" y="602.4" width="4.5" height="63.6" fill="#111"/><polygon points="703.7,664.5 717.7,664.5 717.2,675.2 716.5,682.0 714.0,683.0 713.5,689.0 707.9,689.0 707.4,683.0 704.9,682.0 704.2,675.2" fill="#000"/>
<rect x="815.9" y="575.3" width="5" height="87.2" fill="#111"/><polygon points="810.6,660.5 826.1,660.5 826.1,664.0 823.4,665.5 821.9,671.9 820.9,676.3 815.9,676.3 814.9,671.9 813.4,665.5 810.6,664.0" fill="#000"/>
<rect x="662.2" y="1027.6" width="4.5" height="64.4" fill="#111"/><polygon points="658.0,1090.5 671.0,1090.5 670.5,1101.7 669.8,1108.7 667.8,1109.8 667.3,1116.0 661.7,1116.0 661.2,1109.8 659.2,1108.7 658.5,1101.7" fill="#000"/>
<rect x="755.8" y="975.3" width="5" height="85.9" fill="#111"/><polygon points="750.5,1059.2 766.0,1059.2 766.0,1062.7 763.3,1064.2 761.8,1071.2 760.8,1075.8 755.8,1075.8 754.8,1071.2 753.3,1064.2 750.5,1062.7" fill="#000"/>
</svg>
</body></html>
